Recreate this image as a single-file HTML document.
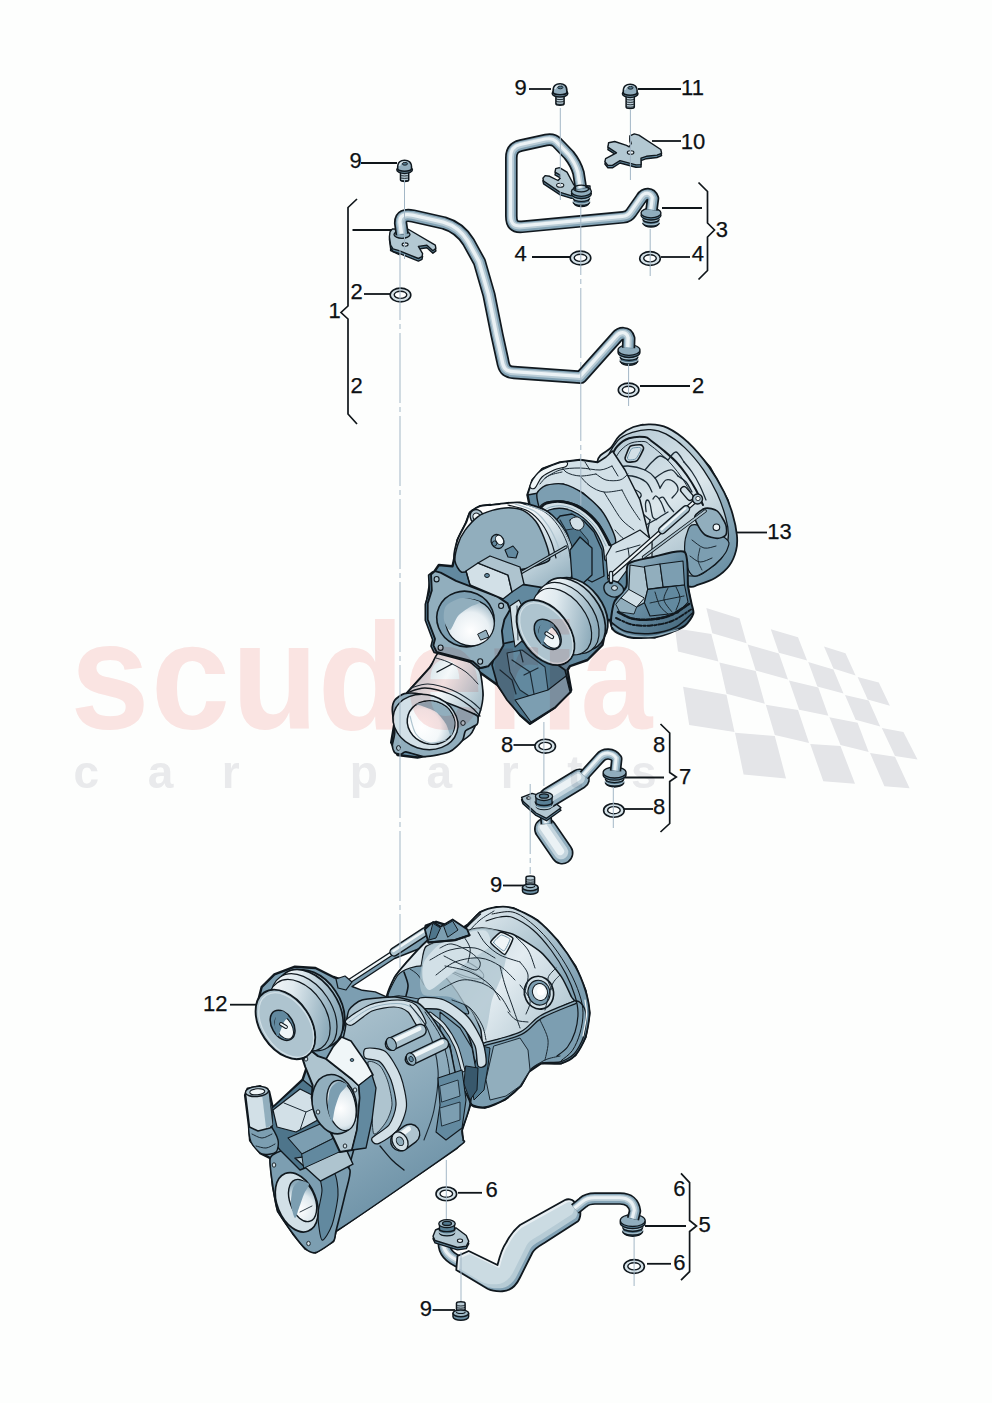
<!DOCTYPE html>
<html><head><meta charset="utf-8"><title>Turbocharger parts diagram</title>
<style>
html,body{margin:0;padding:0;background:#fdfefd;}
body{width:992px;height:1403px;overflow:hidden;font-family:"Liberation Sans",sans-serif;}
svg{display:block}
text{font-family:"Liberation Sans",sans-serif;}
</style></head><body>
<svg width="992" height="1403" viewBox="0 0 992 1403">
<!-- defs -->
<defs>
  <linearGradient id="gBody" x1="0" y1="0" x2="1" y2="1">
    <stop offset="0" stop-color="#cbdae2"/><stop offset="0.5" stop-color="#93afbf"/><stop offset="1" stop-color="#5d849a"/>
  </linearGradient>
  <linearGradient id="gBodyH" x1="0" y1="0" x2="1" y2="0">
    <stop offset="0" stop-color="#e0eaef"/><stop offset="0.45" stop-color="#a1bac7"/><stop offset="1" stop-color="#638aa0"/>
  </linearGradient>
  <linearGradient id="gDark" x1="0" y1="0" x2="1" y2="1">
    <stop offset="0" stop-color="#83a3b5"/><stop offset="1" stop-color="#406378"/>
  </linearGradient>
  <linearGradient id="gLight" x1="0" y1="0" x2="1" y2="1">
    <stop offset="0" stop-color="#f6f9fb"/><stop offset="1" stop-color="#aec4cf"/>
  </linearGradient>
  <radialGradient id="gHole" cx="0.35" cy="0.35" r="0.8">
    <stop offset="0" stop-color="#f4f8fa"/><stop offset="0.6" stop-color="#a8bfcb"/><stop offset="1" stop-color="#5b8298"/>
  </radialGradient>
  <linearGradient id="gCan" x1="0" y1="0" x2="1" y2="0.6">
    <stop offset="0" stop-color="#dae6ec"/><stop offset="0.4" stop-color="#9fb9c6"/><stop offset="1" stop-color="#688ea3"/>
  </linearGradient>
  <linearGradient id="gFat" x1="0" y1="0" x2="1" y2="1">
    <stop offset="0" stop-color="#d3e1e8"/><stop offset="0.55" stop-color="#b6cad4"/><stop offset="1" stop-color="#7fa0b3"/>
  </linearGradient>
</defs>

<!-- lines -->
<g id="leaders" fill="none" stroke="#10161a" stroke-width="1.8">
  <path d="M529 89H551"/>
  <path d="M638 89H681"/>
  <path d="M652 141H681"/>
  <path d="M361 163H397"/>
  <path d="M352.5 230H392"/>
  <path d="M364 294H391"/>
  <path d="M532 257H570"/>
  <path d="M661 257H690"/>
  <path d="M662 208H702"/>
  <path d="M640 386H690"/>
  <path d="M736 532.5H767"/>
  <path d="M513.5 745H535"/>
  <path d="M622.5 777.5H664"/>
  <path d="M624 809H653"/>
  <path d="M503 885.5H524"/>
  <path d="M230 1004.7H257"/>
  <path d="M458 1192.8H482"/>
  <path d="M645 1226H686"/>
  <path d="M647 1263.8H671"/>
  <path d="M432.5 1310H455"/>
</g>
<g id="brackets" fill="none" stroke="#10161a" stroke-width="1.7" stroke-linejoin="miter">
  <path d="M357 199L348 207.5V306L341 312.5L348 319V414L357 424"/>
  <path d="M698.5 182.5L707.5 191.5V223L714.5 230L707.5 237V270.5L698.5 279.5"/>
  <path d="M660.5 724L669.7 733V772.5L676.3 777L669.7 781.5V823.5L660.5 832"/>
  <path d="M681 1173.3L689.6 1182.6V1220.5L696.5 1226L689.6 1231.5V1271.7L681 1280.2"/>
</g>

<!-- pipes -->
<g stroke="#10181e" stroke-width="1.4" stroke-linejoin="round"><path d="M542.9 178.2 L545.1 175.6 L549.7 176.3 L558 180.5 L560.2 178.2 L560.2 175.2 L555 172.2 L555.7 168.7 L559.5 167.6 L567 172.2 L573.9 185 L590 186 L590 193 L575.4 195.5 L570.8 195.6 L560.2 192.3 L543.6 181.2Z" transform="translate(0 2.6)" fill="#62899f"/><path d="M542.9 178.2 L545.1 175.6 L549.7 176.3 L558 180.5 L560.2 178.2 L560.2 175.2 L555 172.2 L555.7 168.7 L559.5 167.6 L567 172.2 L573.9 185 L590 186 L590 193 L575.4 195.5 L570.8 195.6 L560.2 192.3 L543.6 181.2Z" fill="#b3c8d2"/><ellipse cx="560.2" cy="185.3" rx="3.6" ry="2" fill="#ebf1f5" stroke-width="1.1"/></g>
<g stroke="#10181e" stroke-width="1.3"><path d="M574.1999999999999 191.5V203.5A7.199999999999999 3.0239999999999996 0 0 0 588.6 203.5V191.5Z" fill="#44687d"/><path d="M572.9999999999999 196.75A8.399999999999999 3.2399999999999998 0 0 0 589.8000000000001 196.75" fill="none" stroke="#a1bac7" stroke-width="1.5"/><path d="M572.9999999999999 198.25A8.399999999999999 3.2399999999999998 0 0 0 589.8000000000001 198.25" fill="none" stroke-width="1.2"/><path d="M572.9999999999999 200.65A8.399999999999999 3.2399999999999998 0 0 0 589.8000000000001 200.65" fill="none" stroke="#a1bac7" stroke-width="1.5"/><path d="M572.9999999999999 202.15A8.399999999999999 3.2399999999999998 0 0 0 589.8000000000001 202.15" fill="none" stroke-width="1.2"/><ellipse cx="581.4" cy="193.7" rx="10.0" ry="4.8" fill="#5b8298"/><ellipse cx="581.4" cy="191.5" rx="10.0" ry="4.8" fill="#90adbd"/></g>
<g stroke="#10181e" stroke-width="1.3"><path d="M643.8 213V224A7.199999999999999 3.0239999999999996 0 0 0 658.2 224V213Z" fill="#44687d"/><path d="M642.5999999999999 217.8A8.399999999999999 3.2399999999999998 0 0 0 659.4000000000001 217.8" fill="none" stroke="#a1bac7" stroke-width="1.5"/><path d="M642.5999999999999 219.3A8.399999999999999 3.2399999999999998 0 0 0 659.4000000000001 219.3" fill="none" stroke-width="1.2"/><path d="M642.5999999999999 221.44A8.399999999999999 3.2399999999999998 0 0 0 659.4000000000001 221.44" fill="none" stroke="#a1bac7" stroke-width="1.5"/><path d="M642.5999999999999 222.94A8.399999999999999 3.2399999999999998 0 0 0 659.4000000000001 222.94" fill="none" stroke-width="1.2"/><ellipse cx="651" cy="215.2" rx="10.0" ry="4.8" fill="#5b8298"/><ellipse cx="651" cy="213" rx="10.0" ry="4.8" fill="#90adbd"/></g>
<g fill="none" stroke-linecap="butt" stroke-linejoin="round" ><path d="M581 189L578.5 173C576 164 573 160 569 155L557 142.5C554 139.5 551 139 546 140L521 145.5C514 147 511.3 151 511.3 158V216C511.3 224 514 227.5 522 226.8L623 217.3C627 217 629 216 631 213L641.5 198C645 192.5 651 193 653 198.5L651.5 210" stroke="#10181e" stroke-width="12.6"/><path d="M581 189L578.5 173C576 164 573 160 569 155L557 142.5C554 139.5 551 139 546 140L521 145.5C514 147 511.3 151 511.3 158V216C511.3 224 514 227.5 522 226.8L623 217.3C627 217 629 216 631 213L641.5 198C645 192.5 651 193 653 198.5L651.5 210" stroke="#84a4b6" stroke-width="9.2"/><path d="M581 189L578.5 173C576 164 573 160 569 155L557 142.5C554 139.5 551 139 546 140L521 145.5C514 147 511.3 151 511.3 158V216C511.3 224 514 227.5 522 226.8L623 217.3C627 217 629 216 631 213L641.5 198C645 192.5 651 193 653 198.5L651.5 210" stroke="#b9ccd6" stroke-width="6.1" transform="translate(-0.4 -0.5)"/><path d="M581 189L578.5 173C576 164 573 160 569 155L557 142.5C554 139.5 551 139 546 140L521 145.5C514 147 511.3 151 511.3 158V216C511.3 224 514 227.5 522 226.8L623 217.3C627 217 629 216 631 213L641.5 198C645 192.5 651 193 653 198.5L651.5 210" stroke="#ebf2f5" stroke-width="3.1" transform="translate(-0.7 -0.9)"/></g>
<ellipse cx="581.2" cy="188.5" rx="7.6" ry="3.4" fill="none" stroke="#10181e" stroke-width="1.3"/>
<path d="M390.5 244V250.5L399 254.5V248Z" fill="#3f6276" stroke="#10181e" stroke-width="1.2"/>
<g stroke="#10181e" stroke-width="1.4" stroke-linejoin="round"><path d="M390 231.9 L392.4 228.9 L408.7 229.5 L435.3 245.2 L435.9 248.3 L432.9 250.7 L426.9 245.2 L418.4 246.4 L422.6 253.7 L422 256.7 L418.4 258.5 L399 250.7 L393 248.9 L390.6 245.2 L389.4 236.8Z" transform="translate(0 2.6)" fill="#62899f"/><path d="M390 231.9 L392.4 228.9 L408.7 229.5 L435.3 245.2 L435.9 248.3 L432.9 250.7 L426.9 245.2 L418.4 246.4 L422.6 253.7 L422 256.7 L418.4 258.5 L399 250.7 L393 248.9 L390.6 245.2 L389.4 236.8Z" fill="#b3c8d2"/><ellipse cx="405.1" cy="244.6" rx="3" ry="1.7" fill="#ebf1f5" stroke-width="1.1"/></g>
<ellipse cx="402" cy="234.5" rx="8" ry="3.8" fill="#90adbd" stroke="#10181e" stroke-width="1.3"/>
<g stroke="#10181e" stroke-width="1.3"><path d="M621.08 350V362A7.92 3.3264 0 0 0 636.92 362V350Z" fill="#44687d"/><path d="M619.88 355.25A9.12 3.564 0 0 0 638.12 355.25" fill="none" stroke="#a1bac7" stroke-width="1.5"/><path d="M619.88 356.75A9.12 3.564 0 0 0 638.12 356.75" fill="none" stroke-width="1.2"/><path d="M619.88 359.15A9.12 3.564 0 0 0 638.12 359.15" fill="none" stroke="#a1bac7" stroke-width="1.5"/><path d="M619.88 360.65A9.12 3.564 0 0 0 638.12 360.65" fill="none" stroke-width="1.2"/><ellipse cx="629" cy="352.2" rx="11.0" ry="5.279999999999999" fill="#5b8298"/><ellipse cx="629" cy="350" rx="11.0" ry="5.279999999999999" fill="#90adbd"/></g>
<g fill="none" stroke-linecap="butt" stroke-linejoin="round" ><path d="M402.2 234.5L400.6 223C400.6 216 405 214.5 413 216L444 223C456 226.5 463 233 468.5 242L479.5 262L489 295L497 335L502.5 360C504 369 506 372 514 372.5L580.8 377.3L616.5 337.2C620.5 332.5 627 331.8 628.8 338.5L628.5 348" stroke="#10181e" stroke-width="13.4"/><path d="M402.2 234.5L400.6 223C400.6 216 405 214.5 413 216L444 223C456 226.5 463 233 468.5 242L479.5 262L489 295L497 335L502.5 360C504 369 506 372 514 372.5L580.8 377.3L616.5 337.2C620.5 332.5 627 331.8 628.8 338.5L628.5 348" stroke="#84a4b6" stroke-width="10.0"/><path d="M402.2 234.5L400.6 223C400.6 216 405 214.5 413 216L444 223C456 226.5 463 233 468.5 242L479.5 262L489 295L497 335L502.5 360C504 369 506 372 514 372.5L580.8 377.3L616.5 337.2C620.5 332.5 627 331.8 628.8 338.5L628.5 348" stroke="#b9ccd6" stroke-width="6.6" transform="translate(-0.4 -0.5)"/><path d="M402.2 234.5L400.6 223C400.6 216 405 214.5 413 216L444 223C456 226.5 463 233 468.5 242L479.5 262L489 295L497 335L502.5 360C504 369 506 372 514 372.5L580.8 377.3L616.5 337.2C620.5 332.5 627 331.8 628.8 338.5L628.5 348" stroke="#ebf2f5" stroke-width="3.4" transform="translate(-0.7 -0.9)"/></g>
<g stroke="#10181e" stroke-width="1.4" stroke-linejoin="round"><path d="M629.8 135.9 L634.3 133.9 L638.9 135.1 L660.8 149.5 L661.6 153.3 L657 155.1 L646.4 156.3 L641 158.2 L641.1 164.6 L635.9 164.9 L620 160.6 L612.4 165.4 L607.9 165.4 L604.9 161.6 L605.6 158.6 L616.5 152.8 L607.9 147.2 L608.6 142.7 L614.7 141.5 L626.5 145.3 L629.2 146.8 L631.2 143.5 L629.8 139Z" transform="translate(0 2.4)" fill="#62899f"/><path d="M629.8 135.9 L634.3 133.9 L638.9 135.1 L660.8 149.5 L661.6 153.3 L657 155.1 L646.4 156.3 L641 158.2 L641.1 164.6 L635.9 164.9 L620 160.6 L612.4 165.4 L607.9 165.4 L604.9 161.6 L605.6 158.6 L616.5 152.8 L607.9 147.2 L608.6 142.7 L614.7 141.5 L626.5 145.3 L629.2 146.8 L631.2 143.5 L629.8 139Z" fill="#b3c8d2"/><ellipse cx="630.6" cy="152.5" rx="3.3" ry="1.8" fill="#ebf1f5" stroke-width="1.1"/></g>
<g fill="none" stroke-linecap="round"><path d="M545.5 829L562 853" stroke="#10181e" stroke-width="23"/><path d="M545.5 829L562 853" stroke="#90adbd" stroke-width="19.8"/><path d="M545.5 829L562 853" stroke="#c4d5de" stroke-width="14.3" transform="translate(-0.9 -0.9)"/><path d="M545.5 829L562 853" stroke="#ebf2f5" stroke-width="7.9" transform="translate(-1.8 -1.8)"/></g>
<g fill="none" stroke-linecap="butt" stroke-linejoin="round" ><path d="M545.5 812L546.5 824" stroke="#10181e" stroke-width="12"/><path d="M545.5 812L546.5 824" stroke="#84a4b6" stroke-width="8.6"/><path d="M545.5 812L546.5 824" stroke="#b9ccd6" stroke-width="5.7" transform="translate(-0.4 -0.5)"/><path d="M545.5 812L546.5 824" stroke="#ebf2f5" stroke-width="2.9" transform="translate(-0.7 -0.9)"/></g>
<g stroke="#10181e" stroke-width="1.4" stroke-linejoin="round"><path d="M521.6 797.3 L532 793.4 L550.4 798.6 L561 807.8 L546.5 818.3 L536 813 L523 801.3Z" transform="translate(0 2.4)" fill="#62899f"/><path d="M521.6 797.3 L532 793.4 L550.4 798.6 L561 807.8 L546.5 818.3 L536 813 L523 801.3Z" fill="#b3c8d2"/><ellipse cx="528.7" cy="798" rx="2" ry="1.3" fill="#ebf1f5" stroke-width="1.1"/></g>
<g fill="none" stroke-linecap="round"><path d="M549 797.5L579.5 779" stroke="#10181e" stroke-width="21"/><path d="M549 797.5L579.5 779" stroke="#90adbd" stroke-width="17.8"/><path d="M549 797.5L579.5 779" stroke="#c4d5de" stroke-width="12.8" transform="translate(-0.9 -0.9)"/><path d="M549 797.5L579.5 779" stroke="#ebf2f5" stroke-width="7.1" transform="translate(-1.8 -1.8)"/></g>
<g stroke="#10181e" stroke-width="1.3"><path d="M606.32 772.5V783.5A8.28 3.4776 0 0 0 622.88 783.5V772.5Z" fill="#44687d"/><path d="M605.12 777.3A9.479999999999999 3.726 0 0 0 624.08 777.3" fill="none" stroke="#a1bac7" stroke-width="1.5"/><path d="M605.12 778.8A9.479999999999999 3.726 0 0 0 624.08 778.8" fill="none" stroke-width="1.2"/><path d="M605.12 780.9399999999999A9.479999999999999 3.726 0 0 0 624.08 780.9399999999999" fill="none" stroke="#a1bac7" stroke-width="1.5"/><path d="M605.12 782.4399999999999A9.479999999999999 3.726 0 0 0 624.08 782.4399999999999" fill="none" stroke-width="1.2"/><ellipse cx="614.6" cy="774.7" rx="11.5" ry="5.52" fill="#5b8298"/><ellipse cx="614.6" cy="772.5" rx="11.5" ry="5.52" fill="#90adbd"/></g>
<g fill="none" stroke-linecap="butt" stroke-linejoin="round" ><path d="M584 775.5L600 757.8C604 752.8 612.5 752.6 616.8 758.8L615.5 771" stroke="#10181e" stroke-width="11.5"/><path d="M584 775.5L600 757.8C604 752.8 612.5 752.6 616.8 758.8L615.5 771" stroke="#84a4b6" stroke-width="8.1"/><path d="M584 775.5L600 757.8C604 752.8 612.5 752.6 616.8 758.8L615.5 771" stroke="#b9ccd6" stroke-width="5.3" transform="translate(-0.4 -0.5)"/><path d="M584 775.5L600 757.8C604 752.8 612.5 752.6 616.8 758.8L615.5 771" stroke="#ebf2f5" stroke-width="2.8" transform="translate(-0.7 -0.9)"/></g>
<g stroke="#10181e" stroke-width="1.3"><path d="M536 797V806A8 3.6 0 0 0 552 806V797Z" fill="#598096"/><path d="M535 801.5A9 4 0 0 0 553 801.5" fill="none"/><path d="M535 804.5A9 4 0 0 0 553 804.5" fill="none" stroke="#abc2cd"/><ellipse cx="544" cy="796.3" rx="8.6" ry="4.2" fill="#9db7c5"/><ellipse cx="544" cy="796" rx="4.6" ry="2.2" fill="#537a90"/></g>
<g fill="none" stroke-linecap="butt" stroke-linejoin="round" ><path d="M444 1243C444 1252 449 1258 462 1263" stroke="#10181e" stroke-width="13"/><path d="M444 1243C444 1252 449 1258 462 1263" stroke="#84a4b6" stroke-width="9.6"/><path d="M444 1243C444 1252 449 1258 462 1263" stroke="#b9ccd6" stroke-width="6.3" transform="translate(-0.4 -0.5)"/><path d="M444 1243C444 1252 449 1258 462 1263" stroke="#ebf2f5" stroke-width="3.3" transform="translate(-0.7 -0.9)"/></g>
<g stroke="#10181e" stroke-width="1.4" stroke-linejoin="round"><path d="M433 1236.25 L435.5 1230 L440 1228 L456.25 1228 L466.25 1235.5 L468.75 1241.25 L466.25 1246.25 L457.5 1247.5 L435 1240.5Z" transform="translate(0 2.4)" fill="#62899f"/><path d="M433 1236.25 L435.5 1230 L440 1228 L456.25 1228 L466.25 1235.5 L468.75 1241.25 L466.25 1246.25 L457.5 1247.5 L435 1240.5Z" fill="#b3c8d2"/><ellipse cx="460" cy="1240.75" rx="2.6" ry="1.7" fill="#ebf1f5" stroke-width="1.1"/></g>
<g stroke="#10181e" stroke-width="1.3"><path d="M439.5 1224V1233A7.6 3.4 0 0 0 454.5 1233V1224Z" fill="#598096"/><path d="M438.6 1228.5A8.5 3.8 0 0 0 455.4 1228.5" fill="none"/><path d="M438.6 1231A8.5 3.8 0 0 0 455.4 1231" fill="none" stroke="#abc2cd"/><ellipse cx="447" cy="1223.7" rx="8.2" ry="4" fill="#9db7c5"/><ellipse cx="447" cy="1223.4" rx="4.4" ry="2.1" fill="#537a90"/></g>
<g stroke-linejoin="round" ><clipPath id="fatclip1"><path d="M457.5 1256L468.75 1251L497.5 1265C500 1255 503 1247 506.25 1242.5C510 1235 514 1230 520 1225L565 1200C568 1198.5 572 1199.5 573.75 1201.25L580 1210C581 1214 580 1219 578 1221.25L545 1242.5C539 1246 535 1248 532.5 1252.5L520 1277.5C516 1286 510 1291 502.5 1291.25C497 1291.5 492 1291 487.5 1288.75L456.25 1270Z"/></clipPath><path d="M457.5 1256L468.75 1251L497.5 1265C500 1255 503 1247 506.25 1242.5C510 1235 514 1230 520 1225L565 1200C568 1198.5 572 1199.5 573.75 1201.25L580 1210C581 1214 580 1219 578 1221.25L545 1242.5C539 1246 535 1248 532.5 1252.5L520 1277.5C516 1286 510 1291 502.5 1291.25C497 1291.5 492 1291 487.5 1288.75L456.25 1270Z" fill="#82a2b5"/><g clip-path="url(#fatclip1)"><path d="M457.5 1256L468.75 1251L497.5 1265C500 1255 503 1247 506.25 1242.5C510 1235 514 1230 520 1225L565 1200C568 1198.5 572 1199.5 573.75 1201.25L580 1210C581 1214 580 1219 578 1221.25L545 1242.5C539 1246 535 1248 532.5 1252.5L520 1277.5C516 1286 510 1291 502.5 1291.25C497 1291.5 492 1291 487.5 1288.75L456.25 1270Z" fill="#b6cbd5" transform="translate(-2.6 -3)"/><path d="M457.5 1256L468.75 1251L497.5 1265C500 1255 503 1247 506.25 1242.5C510 1235 514 1230 520 1225L565 1200C568 1198.5 572 1199.5 573.75 1201.25L580 1210C581 1214 580 1219 578 1221.25L545 1242.5C539 1246 535 1248 532.5 1252.5L520 1277.5C516 1286 510 1291 502.5 1291.25C497 1291.5 492 1291 487.5 1288.75L456.25 1270Z" fill="#cbdbe2" transform="translate(-6 -7)"/><path d="M457.5 1256L468.75 1251L497.5 1265C500 1255 503 1247 506.25 1242.5C510 1235 514 1230 520 1225L565 1200C568 1198.5 572 1199.5 573.75 1201.25L580 1210C581 1214 580 1219 578 1221.25L545 1242.5C539 1246 535 1248 532.5 1252.5L520 1277.5C516 1286 510 1291 502.5 1291.25C497 1291.5 492 1291 487.5 1288.75L456.25 1270Z" fill="none" stroke="#e8eff3" stroke-width="2.4" transform="translate(1.2 1.6)"/></g><path d="M457.5 1256L468.75 1251L497.5 1265C500 1255 503 1247 506.25 1242.5C510 1235 514 1230 520 1225L565 1200C568 1198.5 572 1199.5 573.75 1201.25L580 1210C581 1214 580 1219 578 1221.25L545 1242.5C539 1246 535 1248 532.5 1252.5L520 1277.5C516 1286 510 1291 502.5 1291.25C497 1291.5 492 1291 487.5 1288.75L456.25 1270Z" fill="none" stroke="#10181e" stroke-width="1.8"/></g>
<g stroke="#10181e" stroke-width="1.3"><path d="M623.7 1220.5V1232.5A9.0 3.78 0 0 0 641.7 1232.5V1220.5Z" fill="#44687d"/><path d="M622.5 1225.75A10.2 4.05 0 0 0 642.9000000000001 1225.75" fill="none" stroke="#a1bac7" stroke-width="1.5"/><path d="M622.5 1227.25A10.2 4.05 0 0 0 642.9000000000001 1227.25" fill="none" stroke-width="1.2"/><path d="M622.5 1229.65A10.2 4.05 0 0 0 642.9000000000001 1229.65" fill="none" stroke="#a1bac7" stroke-width="1.5"/><path d="M622.5 1231.15A10.2 4.05 0 0 0 642.9000000000001 1231.15" fill="none" stroke-width="1.2"/><ellipse cx="632.7" cy="1222.7" rx="12.5" ry="6.0" fill="#5b8298"/><ellipse cx="632.7" cy="1220.5" rx="12.5" ry="6.0" fill="#90adbd"/></g>
<g fill="none" stroke-linecap="butt" stroke-linejoin="round" ><path d="M575 1209L583 1202.5C586 1199.8 590 1198.6 595 1198.6H620C629 1198.6 634 1203 635 1211L633 1219" stroke="#10181e" stroke-width="12.5"/><path d="M575 1209L583 1202.5C586 1199.8 590 1198.6 595 1198.6H620C629 1198.6 634 1203 635 1211L633 1219" stroke="#84a4b6" stroke-width="9.1"/><path d="M575 1209L583 1202.5C586 1199.8 590 1198.6 595 1198.6H620C629 1198.6 634 1203 635 1211L633 1219" stroke="#b9ccd6" stroke-width="6.0" transform="translate(-0.4 -0.5)"/><path d="M575 1209L583 1202.5C586 1199.8 590 1198.6 595 1198.6H620C629 1198.6 634 1203 635 1211L633 1219" stroke="#ebf2f5" stroke-width="3.1" transform="translate(-0.7 -0.9)"/></g>
<!-- small -->
<ellipse cx="400.5" cy="295" rx="10.3" ry="6.9" fill="#d6e3e9" stroke="#10181e" stroke-width="1.6"/><ellipse cx="400.5" cy="294.8" rx="6.300000000000001" ry="3.6000000000000005" fill="#fdfefe" stroke="#10181e" stroke-width="1.4"/>
<ellipse cx="580.5" cy="258" rx="10.3" ry="6.9" fill="#d6e3e9" stroke="#10181e" stroke-width="1.6"/><ellipse cx="580.5" cy="257.8" rx="6.300000000000001" ry="3.6000000000000005" fill="#fdfefe" stroke="#10181e" stroke-width="1.4"/>
<ellipse cx="650" cy="258.5" rx="10.3" ry="6.9" fill="#d6e3e9" stroke="#10181e" stroke-width="1.6"/><ellipse cx="650" cy="258.3" rx="6.300000000000001" ry="3.6000000000000005" fill="#fdfefe" stroke="#10181e" stroke-width="1.4"/>
<ellipse cx="628.6" cy="390" rx="10.3" ry="6.9" fill="#d6e3e9" stroke="#10181e" stroke-width="1.6"/><ellipse cx="628.6" cy="389.8" rx="6.300000000000001" ry="3.6000000000000005" fill="#fdfefe" stroke="#10181e" stroke-width="1.4"/>
<ellipse cx="545.2" cy="746.2" rx="10.3" ry="6.9" fill="#d6e3e9" stroke="#10181e" stroke-width="1.6"/><ellipse cx="545.2" cy="746.0" rx="6.300000000000001" ry="3.6000000000000005" fill="#fdfefe" stroke="#10181e" stroke-width="1.4"/>
<ellipse cx="613.9" cy="810.4" rx="10.3" ry="6.9" fill="#d6e3e9" stroke="#10181e" stroke-width="1.6"/><ellipse cx="613.9" cy="810.1999999999999" rx="6.300000000000001" ry="3.6000000000000005" fill="#fdfefe" stroke="#10181e" stroke-width="1.4"/>
<ellipse cx="446.3" cy="1193.9" rx="10.3" ry="6.9" fill="#d6e3e9" stroke="#10181e" stroke-width="1.6"/><ellipse cx="446.3" cy="1193.7" rx="6.300000000000001" ry="3.6000000000000005" fill="#fdfefe" stroke="#10181e" stroke-width="1.4"/>
<ellipse cx="634.1" cy="1266.5" rx="10.3" ry="6.9" fill="#d6e3e9" stroke="#10181e" stroke-width="1.6"/><ellipse cx="634.1" cy="1266.3" rx="6.300000000000001" ry="3.6000000000000005" fill="#fdfefe" stroke="#10181e" stroke-width="1.4"/>
<g stroke="#10181e" stroke-width="1.5" stroke-linejoin="round"><path d="M555.9 94.39999999999999V103.69999999999999A4.1 1.5 0 0 0 564.1 103.69999999999999V94.39999999999999Z" fill="#bbced8"/><path d="M555.9 98.39999999999999A4.1 1.2 0 0 0 564.1 98.39999999999999" stroke-width="0.9" fill="none"/><path d="M555.9 100.8A4.1 1.2 0 0 0 564.1 100.8" stroke-width="0.9" fill="none"/><path d="M555.9 103.2A4.1 1.2 0 0 0 564.1 103.2" stroke-width="0.9" fill="none"/><ellipse cx="560" cy="93.39999999999999" rx="7.8" ry="3.7" fill="#789bae"/><path d="M553.1 92.0C552.6 85.3 556.5 83.8 560 83.8C563.5 83.8 567.4 85.3 566.9 92.0A6.9 2.8 0 0 1 553.1 92.0Z" fill="#92aebe"/><path d="M555 89.3C555 86.3 558 85.39999999999999 561 85.6" stroke="#dce7ec" stroke-width="1.6" fill="none"/><ellipse cx="560.3" cy="87.39999999999999" rx="2.6" ry="1.4" fill="#51788e" stroke-width="0.9"/></g>
<g stroke="#10181e" stroke-width="1.5" stroke-linejoin="round"><path d="M626.1 94.8V107.1A4.1 1.5 0 0 0 634.3000000000001 107.1V94.8Z" fill="#bbced8"/><path d="M626.1 98.8A4.1 1.2 0 0 0 634.3000000000001 98.8" stroke-width="0.9" fill="none"/><path d="M626.1 101.2A4.1 1.2 0 0 0 634.3000000000001 101.2" stroke-width="0.9" fill="none"/><path d="M626.1 103.60000000000001A4.1 1.2 0 0 0 634.3000000000001 103.60000000000001" stroke-width="0.9" fill="none"/><path d="M626.1 106.00000000000001A4.1 1.2 0 0 0 634.3000000000001 106.00000000000001" stroke-width="0.9" fill="none"/><ellipse cx="630.2" cy="93.8" rx="7.8" ry="3.7" fill="#789bae"/><path d="M623.3000000000001 92.4C622.8000000000001 85.7 626.7 84.2 630.2 84.2C633.7 84.2 637.6 85.7 637.1 92.4A6.9 2.8 0 0 1 623.3000000000001 92.4Z" fill="#92aebe"/><path d="M625.2 89.7C625.2 86.7 628.2 85.8 631.2 86.0" stroke="#dce7ec" stroke-width="1.6" fill="none"/><ellipse cx="630.5" cy="87.8" rx="2.6" ry="1.4" fill="#51788e" stroke-width="0.9"/></g>
<g stroke="#10181e" stroke-width="1.5" stroke-linejoin="round"><path d="M400.5 170.79999999999998V180.1A4.1 1.5 0 0 0 408.70000000000005 180.1V170.79999999999998Z" fill="#bbced8"/><path d="M400.5 174.79999999999998A4.1 1.2 0 0 0 408.70000000000005 174.79999999999998" stroke-width="0.9" fill="none"/><path d="M400.5 177.2A4.1 1.2 0 0 0 408.70000000000005 177.2" stroke-width="0.9" fill="none"/><path d="M400.5 179.6A4.1 1.2 0 0 0 408.70000000000005 179.6" stroke-width="0.9" fill="none"/><ellipse cx="404.6" cy="169.79999999999998" rx="7.8" ry="3.7" fill="#789bae"/><path d="M397.70000000000005 168.39999999999998C397.20000000000005 161.7 401.1 160.2 404.6 160.2C408.1 160.2 412.0 161.7 411.5 168.39999999999998A6.9 2.8 0 0 1 397.70000000000005 168.39999999999998Z" fill="#92aebe"/><path d="M399.6 165.7C399.6 162.7 402.6 161.79999999999998 405.6 162.0" stroke="#dce7ec" stroke-width="1.6" fill="none"/><ellipse cx="404.90000000000003" cy="163.79999999999998" rx="2.6" ry="1.4" fill="#51788e" stroke-width="0.9"/></g>
<g stroke="#10181e" stroke-width="1.5" stroke-linejoin="round"><path d="M526.0 877.4A4.3 1.5 0 0 1 534.5999999999999 877.4V886.4H526.0Z" fill="#bbced8"/><path d="M526.0 878.9A4.3 1.2 0 0 0 534.5999999999999 878.9" stroke-width="0.9" fill="none"/><path d="M526.0 881.1A4.3 1.2 0 0 0 534.5999999999999 881.1" stroke-width="0.9" fill="none"/><path d="M526.0 883.3000000000001A4.3 1.2 0 0 0 534.5999999999999 883.3000000000001" stroke-width="0.9" fill="none"/><path d="M522.5 887.4V890.9A7.8 3.4 0 0 0 538.0999999999999 890.9V887.4Z" fill="#6b90a5"/><ellipse cx="530.3" cy="887.4" rx="7.8" ry="3.4" fill="#9eb8c5"/><path d="M526.0 886.0A4.3 1.6 0 0 0 534.5999999999999 886.0" fill="none" stroke-width="1.1"/></g>
<g stroke="#10181e" stroke-width="1.5" stroke-linejoin="round"><path d="M456.5 1303.3A4.3 1.5 0 0 1 465.1 1303.3V1312.3H456.5Z" fill="#bbced8"/><path d="M456.5 1304.8A4.3 1.2 0 0 0 465.1 1304.8" stroke-width="0.9" fill="none"/><path d="M456.5 1307.0A4.3 1.2 0 0 0 465.1 1307.0" stroke-width="0.9" fill="none"/><path d="M456.5 1309.2A4.3 1.2 0 0 0 465.1 1309.2" stroke-width="0.9" fill="none"/><path d="M453.0 1313.3V1316.8A7.8 3.4 0 0 0 468.6 1316.8V1313.3Z" fill="#6b90a5"/><ellipse cx="460.8" cy="1313.3" rx="7.8" ry="3.4" fill="#9eb8c5"/><path d="M456.5 1311.8999999999999A4.3 1.6 0 0 0 465.1 1311.8999999999999" fill="none" stroke-width="1.1"/></g>
<!-- turbo13 -->
<defs>
<linearGradient id="t13bell" gradientUnits="userSpaceOnUse" x1="610" y1="430" x2="735" y2="580"><stop offset="0" stop-color="#d6e3e9"/><stop offset="0.5" stop-color="#a6beca"/><stop offset="1" stop-color="#62899f"/></linearGradient>
<linearGradient id="t13in" gradientUnits="userSpaceOnUse" x1="620" y1="440" x2="700" y2="570"><stop offset="0" stop-color="#bacdd7"/><stop offset="0.5" stop-color="#dce7ec"/><stop offset="1" stop-color="#a1bac7"/></linearGradient>
<linearGradient id="t13out" gradientUnits="userSpaceOnUse" x1="615" y1="560" x2="692" y2="630"><stop offset="0" stop-color="#a1bac7"/><stop offset="0.45" stop-color="#698ea4"/><stop offset="1" stop-color="#42657a"/></linearGradient>
<linearGradient id="t13can" gradientUnits="userSpaceOnUse" x1="530" y1="580" x2="608" y2="650"><stop offset="0" stop-color="#d0dee5"/><stop offset="0.5" stop-color="#8fadbd"/><stop offset="1" stop-color="#5c8399"/></linearGradient>
<linearGradient id="t13face" gradientUnits="userSpaceOnUse" x1="525" y1="600" x2="580" y2="660"><stop offset="0" stop-color="#f4f8fa"/><stop offset="0.6" stop-color="#c4d5de"/><stop offset="1" stop-color="#96b2c1"/></linearGradient>
<linearGradient id="t13pipe" gradientUnits="userSpaceOnUse" x1="400" y1="680" x2="480" y2="720"><stop offset="0" stop-color="#bbced8"/><stop offset="0.45" stop-color="#f5f9fa"/><stop offset="1" stop-color="#9eb8c5"/></linearGradient>
<radialGradient id="t13bore" gradientUnits="userSpaceOnUse" cx="424" cy="730" r="30"><stop offset="0" stop-color="#ffffff"/><stop offset="0.6" stop-color="#f4f8fa"/><stop offset="1" stop-color="#b7cbd5"/></radialGradient>
<radialGradient id="t13hole" gradientUnits="userSpaceOnUse" cx="474" cy="630" r="34"><stop offset="0" stop-color="#ffffff"/><stop offset="0.55" stop-color="#e8eff3"/><stop offset="1" stop-color="#8dabbb"/></radialGradient>
</defs>
<path d="M612.5 450L622.5 435L642.5 425L662.5 427.5L687.5 442.5L710 467.5L727.5 500L735 530L733.8 550L722.5 570L705 580L687.5 586.2L690 600L691.2 615L680 626.2L655 637.5L630 636.2L612.5 628.8L610 620L607.5 620L602.5 645L587.5 660L570 666.2L567.5 670L571.2 690L555 707.5L530 723.8L520 715L497.5 685L480 672.5L482.5 695L477.5 712.5L462.5 732.5L442.5 752.5L417.5 757.5L397.5 755L391.2 742.5L395 720L393.8 712.5L407.5 692.5L430 667.5L440 652.5L433.8 640L436.2 635L426.2 605L431.2 576.2L438.8 565L452.5 566.2L455 555L457.5 540L466.2 522.5L470 512.5L480 506.2L490 505L497.5 507.5L520 506.2L530 507.5L527.5 495L532.5 480L542.5 468.8L560 462.5L580 460L597.5 462.5L605 457.5Z" fill="#62899f" stroke="#10181e" stroke-width="2.4" stroke-linejoin="round" stroke-linecap="round" />
<path d="M597.3 462.1C598.3 453.4 607.3 452 611 447.6C614.7 443.2 615.9 439 619.6 435.6C623.3 432.2 628.2 428.9 633.3 427C638.4 425.1 644.7 424.2 650.4 424.4C656.1 424.5 661.2 424.9 667.5 427.9C673.8 430.9 681.2 436 688.1 442.4C695 448.8 702.7 458.1 708.7 466.4C714.7 474.7 720.1 484.1 724.1 492.1C728.1 500.1 730.6 507.2 732.7 514.4C734.8 521.5 736.3 529 736.9 535C737.5 541 737.4 545.3 736.1 550.4C734.8 555.5 732.6 561.2 729.2 565.8C725.8 570.4 720.6 574.6 715.5 577.8C710.4 580.9 703 583.3 698.4 584.7C693.8 586.1 694.5 588 688.1 586.4C681.7 584.8 669.7 582.7 660 575C650.3 567.3 639.2 552.5 630 540C620.8 527.5 610.5 513 605 500C599.5 487 596.3 470.8 597.3 462.1Z" fill="url(#t13bell)" stroke="#10181e" stroke-width="1.8" stroke-linejoin="round" stroke-linecap="round" />
<path d="M617.8 440.7C622.3 435.2 627.9 434 633.3 432.1C638.7 430.2 645 429.3 650.4 429.6C655.8 429.9 660.1 430.9 665.8 433.9C671.5 436.9 678.4 441.6 684.7 447.6C691 453.6 698.1 462.1 703.5 469.8C708.9 477.5 713.5 485.8 717.2 493.8C720.9 501.8 723.9 510.9 725.8 517.8C727.7 524.7 728.4 529.9 728.4 535C728.4 540.1 727.1 544.7 725.8 548.7C724.5 552.7 723.6 555.6 720.7 559C717.9 562.4 713 566.4 708.7 569.2C704.4 572.1 701.5 576 695 576.1C688.5 576.2 679.2 575.2 670 570C660.8 564.8 649.2 556.7 640 545C630.8 533.3 620.7 513.3 615 500C609.3 486.7 605.5 474.9 606 465C606.5 455.1 613.2 446.2 617.8 440.7Z" fill="url(#t13in)" stroke="#10181e" stroke-width="1.3" stroke-linejoin="round" stroke-linecap="round" />
<path d="M695 524.7C701.6 525.3 720.4 534.4 725.8 538.4C731.2 542.4 728.4 545.3 727.5 548.7C726.6 552.1 723.8 555.6 720.7 559C717.6 562.4 713 566.4 708.7 569.2C704.4 572.1 698.4 576.1 695 576.1C691.6 576.1 689.8 573.2 688.1 569.2C686.4 565.2 685 557.8 684.7 552.1C684.4 546.4 684.7 539.6 686.4 535C688.1 530.4 688.4 524.1 695 524.7Z" fill="#7c9eb1" stroke="#10181e" stroke-width="1.2" stroke-linejoin="round" stroke-linecap="round" />
<path d="M692 540C694 541.3 700 547 704 548C708 549 714 546.3 716 546" fill="none" stroke="#1b2933" stroke-width="1.0" stroke-linejoin="round" stroke-linecap="round" />
<path d="M690 556C691.7 557 696.3 561.7 700 562C703.7 562.3 710 558.7 712 558" fill="none" stroke="#1b2933" stroke-width="1.0" stroke-linejoin="round" stroke-linecap="round" />
<path d="M700 548C699.7 550 697.7 556.3 698 560C698.3 563.7 701.3 568.3 702 570" fill="none" stroke="#1b2933" stroke-width="0.9" stroke-linejoin="round" stroke-linecap="round" />
<path d="M600 468C601.8 466.1 607.8 460.3 610.7 456.7C613.6 453.1 614.2 449.3 617.3 446.2C620.3 443.1 624.4 439.8 629 438.3C633.6 436.8 641.1 436.6 644.8 437C648.5 437.4 648.4 438.8 651.4 441C654.4 443.2 658.9 446.5 663 450C667.1 453.5 672.3 457.8 676.3 462C680.2 466.2 683.4 470.3 686.7 475C690 479.7 693.3 485 696 490C698.7 495 701.8 502.5 703 505" fill="none" stroke="#10181e" stroke-width="2.0" stroke-linejoin="round" stroke-linecap="round" />
<path d="M606 470C607.3 468.3 611.5 463.3 614 460C616.5 456.7 618.2 452.8 621 450C623.8 447.2 627.2 444.4 631 443C634.8 441.6 640.8 441.2 644 441.5C647.2 441.8 647.3 443.1 650 445C652.7 446.9 656.3 449.7 660 453C663.7 456.3 668.3 460.8 672 465C675.7 469.2 678.8 473.3 682 478C685.2 482.7 689.5 490.5 691 493" fill="none" stroke="#1b2933" stroke-width="1.0" stroke-linejoin="round" stroke-linecap="round" />
<path d="M625.1 458C625.4 456.4 628.8 447.5 630.4 446.2C632 444.9 639.6 444.6 640.9 444.9C642.2 445.2 643.9 447.2 643.5 448.8C643.1 450.4 638.6 459.3 637 460.6C635.4 461.9 629 462.3 627.8 462C626.6 461.7 624.8 459.6 625.1 458Z" fill="#d2e0e7" stroke="#10181e" stroke-width="1.6" stroke-linejoin="round" stroke-linecap="round" />
<path d="M627.5 457.5C627.8 456.4 630.6 449.5 631.8 448.5C633 447.5 638.9 447.4 639.8 447.5C640.7 447.6 641.4 448.9 641 450C640.6 451.1 637 457.8 635.8 458.8C634.6 459.8 629.8 460.1 629 460C628.2 459.9 627.2 458.6 627.5 457.5Z" fill="none" stroke="#62899f" stroke-width="0.9" stroke-linejoin="round" stroke-linecap="round" />
<path d="M596 466C598.7 466.3 606.7 468 612 468C617.3 468 622.5 465.7 628 466C633.5 466.3 640.5 468 645 470C649.5 472 652.5 475 655 478C657.5 481 659.2 486.3 660 488" fill="none" stroke="#1b2933" stroke-width="1.3" stroke-linejoin="round" stroke-linecap="round" />
<path d="M598 474C600.8 474.3 609.3 475.7 615 476C620.7 476.3 626.8 475 632 476C637.2 477 642.7 479.3 646 482C649.3 484.7 651 490.3 652 492" fill="none" stroke="#1b2933" stroke-width="1.3" stroke-linejoin="round" stroke-linecap="round" />
<path d="M600 482C602.3 482.7 609 485 614 486C619 487 625.5 486.7 630 488C634.5 489.3 640 492 641 494C642 496 639.5 499.3 636 500C632.5 500.7 625.3 499.3 620 498C614.7 496.7 606.7 493 604 492" fill="none" stroke="#1b2933" stroke-width="1.3" stroke-linejoin="round" stroke-linecap="round" />
<path d="M645 470C646.2 468.7 649.5 464.3 652 462C654.5 459.7 657.3 456.3 660 456C662.7 455.7 666.7 459.3 668 460" fill="none" stroke="#1b2933" stroke-width="1.3" stroke-linejoin="round" stroke-linecap="round" />
<path d="M655 478C656.5 477 661.2 473.3 664 472C666.8 470.7 669.7 469.3 672 470C674.3 470.7 677 475 678 476" fill="none" stroke="#1b2933" stroke-width="1.3" stroke-linejoin="round" stroke-linecap="round" />
<path d="M660 488C661 486.7 663.7 481 666 480C668.3 479 672 480.3 674 482C676 483.7 678.3 487.3 678 490C677.7 492.7 673 496.7 672 498" fill="none" stroke="#1b2933" stroke-width="1.3" stroke-linejoin="round" stroke-linecap="round" />
<path d="M612 500C614.2 500.8 620.3 503 625 505C629.7 507 635.8 509.5 640 512C644.2 514.5 648.3 518.7 650 520" fill="none" stroke="#1b2933" stroke-width="1.3" stroke-linejoin="round" stroke-linecap="round" />
<path d="M604 505C605.3 507.5 608.5 515 612 520C615.5 525 620.3 530.7 625 535C629.7 539.3 637.5 544.2 640 546" fill="none" stroke="#1b2933" stroke-width="1.3" stroke-linejoin="round" stroke-linecap="round" />
<path d="M612 520C613.7 519.3 618.3 516 622 516C625.7 516 632 519.3 634 520" fill="none" stroke="#1b2933" stroke-width="1.3" stroke-linejoin="round" stroke-linecap="round" />
<path d="M625 535C627.5 533.8 635 530.5 640 528C645 525.5 650.3 522.7 655 520C659.7 517.3 665.8 513.3 668 512" fill="none" stroke="#1b2933" stroke-width="1.3" stroke-linejoin="round" stroke-linecap="round" />
<path d="M640 546C642 544.7 647.3 541.3 652 538C656.7 534.7 665.3 528 668 526" fill="none" stroke="#1b2933" stroke-width="1.3" stroke-linejoin="round" stroke-linecap="round" />
<path d="M646.1 511.7C646 510.4 645.3 505.8 645.5 503.9C645.7 501.9 646.6 500 647.4 500C648.1 500 649.1 501.1 650 503.9C650.9 506.7 651.6 514.4 652.7 517C653.8 519.6 656 519.2 656.6 519.6" fill="none" stroke="#1b2933" stroke-width="1.3" stroke-linejoin="round" stroke-linecap="round" />
<path d="M659.2 498.6C659.9 498.4 661.7 496.2 663.2 497.3C664.7 498.4 666.7 502.8 668.4 505.2C670.1 507.6 672.7 510.6 673.6 511.7" fill="none" stroke="#1b2933" stroke-width="1.3" stroke-linejoin="round" stroke-linecap="round" />
<path d="M653 499C653.5 498.5 654.7 495.5 656 496C657.3 496.5 659.5 499.3 661 502C662.5 504.7 664.3 510.3 665 512" fill="none" stroke="#1b2933" stroke-width="1.3" stroke-linejoin="round" stroke-linecap="round" />
<path d="M678 476C679.3 477 683.7 479.3 686 482C688.3 484.7 691 490.3 692 492" fill="none" stroke="#1b2933" stroke-width="1.3" stroke-linejoin="round" stroke-linecap="round" />
<path d="M684 462C685.3 463.7 689.3 468 692 472C694.7 476 697.7 481.3 700 486C702.3 490.7 705 497.7 706 500" fill="none" stroke="#1b2933" stroke-width="1.3" stroke-linejoin="round" stroke-linecap="round" />
<path d="M668 460C669.3 458.7 673.3 451.7 676 452C678.7 452.3 682.7 460.3 684 462" fill="none" stroke="#1b2933" stroke-width="1.3" stroke-linejoin="round" stroke-linecap="round" />
<path d="M650 520C649.7 522 647.7 527.8 648 532C648.3 536.2 651.3 542.8 652 545" fill="none" stroke="#1b2933" stroke-width="1.3" stroke-linejoin="round" stroke-linecap="round" />
<path d="M600 500C601.1 497.1 606.4 505.1 608 508C609.6 510.9 611.7 517.7 612 522C612.3 526.3 611.1 536.5 610 540C608.9 543.5 605.3 549.3 604 548C602.7 546.7 600.5 536.4 600 530C599.5 523.6 598.9 502.9 600 500Z" fill="#91aebd" stroke="none" stroke-width="0" stroke-linejoin="round" stroke-linecap="round" />
<path d="M527.5 495L532.5 480L542.5 468.8L560 462.5L580 460L597.5 462.5L606 457L612.5 451L625 470L640 500L650 540L640 562L615 548L601 510L583 493L563 484L546 485.4L537 493.3Z" fill="#d2e0e7" stroke="#10181e" stroke-width="1.5" stroke-linejoin="round" stroke-linecap="round" />
<path d="M545 478C547.5 476.7 554.2 471.7 560 470C565.8 468.3 573.3 468 580 468C586.7 468 594.7 470.3 600 470C605.3 469.7 610 466.7 612 466" fill="none" stroke="#1b2933" stroke-width="1.0" stroke-linejoin="round" stroke-linecap="round" />
<path d="M540 484C541.3 482.7 544.3 478 548 476C551.7 474 559.7 472.7 562 472" fill="none" stroke="#1b2933" stroke-width="1.0" stroke-linejoin="round" stroke-linecap="round" />
<path d="M560 463C561 464.5 562.7 469.8 566 472C569.3 474.2 575 475.7 580 476C585 476.3 593.3 474.3 596 474" fill="none" stroke="#1b2933" stroke-width="1.0" stroke-linejoin="round" stroke-linecap="round" />
<path d="M580 476C581.7 477.7 586 483.3 590 486C594 488.7 598.7 491.3 604 492C609.3 492.7 619 490.3 622 490" fill="none" stroke="#1b2933" stroke-width="1.0" stroke-linejoin="round" stroke-linecap="round" />
<path d="M596 474C597.7 475 602 479 606 480C610 481 616.3 481 620 480C623.7 479 626.7 475 628 474" fill="none" stroke="#1b2933" stroke-width="1.0" stroke-linejoin="round" stroke-linecap="round" />
<path d="M604 492C605.3 494.2 609 500.3 612 505C615 509.7 618.3 515.8 622 520C625.7 524.2 632 528.3 634 530" fill="none" stroke="#1b2933" stroke-width="1.0" stroke-linejoin="round" stroke-linecap="round" />
<path d="M622 490C623.3 492.5 627 500 630 505C633 510 638.3 517.5 640 520" fill="none" stroke="#1b2933" stroke-width="1.0" stroke-linejoin="round" stroke-linecap="round" />
<path d="M585 462C585.8 463.3 589.2 468.7 590 470" fill="none" stroke="#1b2933" stroke-width="1.0" stroke-linejoin="round" stroke-linecap="round" />
<path d="M612 466C613 467.7 617 474.3 618 476" fill="none" stroke="#1b2933" stroke-width="1.0" stroke-linejoin="round" stroke-linecap="round" />
<path d="M615 530C616.7 531.7 620.8 537 625 540C629.2 543 637.5 546.7 640 548" fill="none" stroke="#1b2933" stroke-width="1.0" stroke-linejoin="round" stroke-linecap="round" />
<path d="M530 486C530.5 483.5 534.3 476.4 538 473C541.7 469.6 547.3 467.3 552 465.5C556.7 463.7 563.7 461.8 566 462C568.3 462.2 568 465.2 566 466.5C564 467.8 558 468.2 554 470C550 471.8 545.2 474 542 477C538.8 480 537 486.5 535 488C533 489.5 529.5 488.5 530 486Z" fill="#f0f6f8" stroke="#10181e" stroke-width="1.1" stroke-linejoin="round" stroke-linecap="round" />
<path d="M537 493.3C537.9 490.3 542.7 486.6 546.2 485.4C549.7 484.2 558.4 483 563.3 484.1C568.2 485.2 577.8 489.8 582.9 493.3C588 496.8 597.5 505.6 601.3 510.3C605.1 515 609.8 524.4 611.7 528.6C613.6 532.8 615.9 539.6 615.7 541.7C615.5 543.8 612.7 546.8 610.4 544.4C608.1 542 602.4 528.3 598.6 523.4C594.8 518.5 586.3 510.7 581.6 507.7C576.9 504.7 568 501.8 563.3 501.1C558.6 500.4 549.3 501.5 546.2 502.4C543.1 503.3 540.9 508.9 539.7 507.7C538.5 506.5 536.1 496.3 537 493.3Z" fill="#7c9eb1" stroke="#10181e" stroke-width="1.4" stroke-linejoin="round" stroke-linecap="round" />
<path d="M539.7 507.7C540.4 505.9 543.1 503.3 546.2 502.4C549.3 501.5 558.6 500.4 563.3 501.1C568 501.8 576.9 504.7 581.6 507.7C586.3 510.7 594.8 518.5 598.6 523.4C602.4 528.3 608.6 539.8 610.4 544.4C612.2 549 612.7 555.9 612 558C611.3 560.1 606.2 561.5 605 560C603.8 558.5 604.6 551.3 603 547C601.4 542.7 596.3 532.4 593 528C589.7 523.6 582 516.6 578 514C574 511.4 566.9 509 563 508.5C559.1 508 551.9 509 549 510C546.1 511 542.2 516.3 541 516C539.8 515.7 539 509.5 539.7 507.7Z" fill="#d2e0e7" stroke="#10181e" stroke-width="1.3" stroke-linejoin="round" stroke-linecap="round" />
<path d="M540.5 508.5C541.5 507.6 542.7 504.4 546.5 503.4C550.3 502.3 557.5 501.3 563.3 502.2C569 503.1 575.2 505.1 581 508.7C586.8 512.3 593.1 518 597.8 524C602.5 530 607.5 541.5 609.4 545" fill="none" stroke="#10181e" stroke-width="2.2" stroke-linejoin="round" stroke-linecap="round" />
<path d="M542 513C543.2 512.1 545.5 508.7 549 507.5C552.5 506.3 558 505.2 563 506C568 506.8 573.7 508.6 579 512C584.3 515.4 590.5 520.8 595 526.5C599.5 532.2 604.2 542.8 606 546" fill="none" stroke="#91aebd" stroke-width="1.0" stroke-linejoin="round" stroke-linecap="round" />
<path d="M612 545L640 530L652 540L652 558L630 566L618 582L608 580L606 556Z" fill="#d2e0e7" stroke="#10181e" stroke-width="1.2" stroke-linejoin="round" stroke-linecap="round" />
<path d="M616 552L640 545" fill="none" stroke="#1b2933" stroke-width="1.0" stroke-linejoin="round" stroke-linecap="round" />
<path d="M620 566L612 575" fill="none" stroke="#1b2933" stroke-width="1.0" stroke-linejoin="round" stroke-linecap="round" />
<path d="M628 548L630 562" fill="none" stroke="#1b2933" stroke-width="1.0" stroke-linejoin="round" stroke-linecap="round" />
<path d="M552 525L560 516L572 514L584 521L594 532L602 550L604 576L592 582L577 574L562 562L553 542Z" fill="#62899f" stroke="#10181e" stroke-width="1.3" stroke-linejoin="round" stroke-linecap="round" />
<path d="M566 530L578 528L588 540L590 560L580 560L570 548Z" fill="#4e758b" stroke="#1b2933" stroke-width="1.0" stroke-linejoin="round" stroke-linecap="round" />
<path d="M560 520C561.3 522.5 566 529.2 568 535C570 540.8 570 549.2 572 555C574 560.8 578.7 567.5 580 570" fill="none" stroke="#1b2933" stroke-width="1.2" stroke-linejoin="round" stroke-linecap="round" />
<path d="M570 520C570.8 518.2 575.7 516.3 578 517C580.3 517.7 583.7 521.8 584 524C584.3 526.2 581.8 529.3 580 530C578.2 530.7 574.7 529.7 573 528C571.3 526.3 569.2 521.8 570 520Z" fill="#d2e0e7" stroke="#10181e" stroke-width="1.0" stroke-linejoin="round" stroke-linecap="round" />
<path d="M628.1 564.1C631.1 560.7 645.5 558.6 652.1 557.2C658.7 555.8 680.5 548.7 684.7 552.1C688.9 555.5 687.3 580.4 688.1 586.4C688.9 592.4 690.9 600.3 691.5 603.5C692.1 606.7 694.1 611.2 693.3 613.8C692.5 616.4 688.5 623.2 684.7 625.8C680.9 628.4 666.9 634.7 660.7 636.1C654.5 637.5 637 638.4 631.6 637.8C626.2 637.2 616.8 632.9 614.4 630.9C612 628.9 611 624.1 611 620.7C611 617.3 612.6 605.8 614.4 601.8C616.2 597.8 624.8 590.8 626.4 586.4C628 582 625.1 567.5 628.1 564.1Z" fill="url(#t13out)" stroke="#10181e" stroke-width="2.0" stroke-linejoin="round" stroke-linecap="round" />
<path d="M630 565L644.4 567.2L647.7 589.4L644.4 602.7L636.6 607.1L628.8 589.4Z" fill="#aec4cf" stroke="#10181e" stroke-width="1.1" stroke-linejoin="round" stroke-linecap="round" />
<path d="M644.4 566.5L660 564L663.2 587.1L647.7 589.4Z" fill="#91aebd" stroke="#10181e" stroke-width="1.1" stroke-linejoin="round" stroke-linecap="round" />
<path d="M660 564L683 561L684.5 585L663.2 587.1Z" fill="#7c9eb1" stroke="#10181e" stroke-width="1.1" stroke-linejoin="round" stroke-linecap="round" />
<path d="M647.7 589.4L684.5 585L688 602L678 613L650 616L644.4 602.7Z" fill="#62899f" stroke="#10181e" stroke-width="1.1" stroke-linejoin="round" stroke-linecap="round" />
<path d="M621 598L628.8 589.4L644.4 598L636.6 607.1Z" fill="#d2e0e7" stroke="#10181e" stroke-width="1.0" stroke-linejoin="round" stroke-linecap="round" />
<path d="M616 604L621 598L636.6 607.1L634 614L620 612Z" fill="#91aebd" stroke="#10181e" stroke-width="0.9" stroke-linejoin="round" stroke-linecap="round" />
<path d="M655 592C655.8 594.3 657.8 602.3 660 606C662.2 609.7 666.7 612.7 668 614" fill="none" stroke="#10181e" stroke-width="0.9" stroke-linejoin="round" stroke-linecap="round" />
<path d="M668 588C667.3 590 663.3 596 664 600C664.7 604 670.7 610 672 612" fill="none" stroke="#10181e" stroke-width="0.9" stroke-linejoin="round" stroke-linecap="round" />
<path d="M676 587C676.7 588.8 680 594.2 680 598C680 601.8 676.7 608 676 610" fill="none" stroke="#10181e" stroke-width="0.9" stroke-linejoin="round" stroke-linecap="round" />
<path d="M650 603C652.3 602.5 658.3 601.2 664 600C669.7 598.8 680.7 596.7 684 596" fill="none" stroke="#10181e" stroke-width="0.9" stroke-linejoin="round" stroke-linecap="round" />
<path d="M618 612C620.3 613.1 626.7 617.2 632 618.5C637.3 619.8 643.7 620 650 619.5C656.3 619 663.5 618.1 670 615.5C676.5 612.9 685.8 605.9 689 604" fill="none" stroke="#10181e" stroke-width="2.6" stroke-linejoin="round" stroke-linecap="round" stroke-dasharray="3.2 1.8"/>
<path d="M616 618C618.7 619.1 626.2 623.2 632 624.5C637.8 625.8 644.3 626.1 651 625.5C657.7 624.9 665.3 623.7 672 621C678.7 618.3 687.8 611.4 691 609.5" fill="none" stroke="#10181e" stroke-width="2.0" stroke-linejoin="round" stroke-linecap="round" stroke-dasharray="5 2 2 2"/>
<path d="M611.5 622.5C613.9 624 619.2 629.7 626 631.5C632.8 633.3 643.7 634.2 652 633.5C660.3 632.8 669.2 630.4 676 627C682.8 623.6 689.8 615.3 692.5 613" fill="none" stroke="#10181e" stroke-width="1.5" stroke-linejoin="round" stroke-linecap="round" />
<path d="M612.5 626C614.9 627.4 620.4 632.9 627 634.6C633.6 636.3 643.5 637.2 652 636.4C660.5 635.6 673.7 630.7 678 629.6" fill="none" stroke="#91aebd" stroke-width="1.2" stroke-linejoin="round" stroke-linecap="round" />
<path d="M695 516.1C695.9 513.7 702.2 509.1 705.2 508.4C708.2 507.7 714.5 508.8 717.2 511C719.9 513.2 724.7 521.5 725.8 524.7C726.9 527.9 726.9 533.2 725.8 535C724.7 536.8 719.9 538.4 717.2 538.4C714.5 538.4 707.7 536.6 705.2 535C702.7 533.4 699.8 528.9 698.4 526.4C697 523.9 694.1 518.5 695 516.1Z" fill="#91aebd" stroke="#10181e" stroke-width="1.6" stroke-linejoin="round" stroke-linecap="round" />
<ellipse cx="716.4" cy="527.3" rx="3.3" ry="3.3" fill="#f0f6f8" stroke="#10181e" stroke-width="1.1" />
<path d="M643.5 557.2L705.2 511" fill="none" stroke="#10181e" stroke-width="3.4" stroke-linejoin="round" stroke-linecap="round" />
<path d="M643.5 557.2L705.2 511" fill="none" stroke="#aec4cf" stroke-width="1.6" stroke-linejoin="round" stroke-linecap="round" />
<path d="M609.3 577L697.5 499" fill="none" stroke="#10181e" stroke-width="4.6" stroke-linejoin="round" stroke-linecap="round" />
<path d="M609.3 577L697.5 499" fill="none" stroke="#f0f6f8" stroke-width="2.2" stroke-linejoin="round" stroke-linecap="round" />
<path d="M662.2 530.2L686 509.1" fill="none" stroke="#10181e" stroke-width="8.4" stroke-linejoin="round" stroke-linecap="round" />
<path d="M662.2 530.2L686 509.1" fill="none" stroke="#aec4cf" stroke-width="5.6" stroke-linejoin="round" stroke-linecap="round" />
<path d="M661.6 529.4L685.4 508.3" fill="none" stroke="#f0f6f8" stroke-width="2.2" stroke-linejoin="round" stroke-linecap="round" />
<path d="M684 490L690 497" fill="none" stroke="#10181e" stroke-width="8" stroke-linejoin="round" stroke-linecap="round" />
<path d="M684 490L690 497" fill="none" stroke="#d2e0e7" stroke-width="5.2" stroke-linejoin="round" stroke-linecap="round" />
<ellipse cx="697.5" cy="499" rx="5" ry="5" fill="#aec4cf" stroke="#10181e" stroke-width="1.4" />
<ellipse cx="698" cy="498.5" rx="2.2" ry="2.2" fill="#f0f6f8" stroke="#10181e" stroke-width="0.8" />
<path d="M606 583C607.7 581.7 611.3 580.5 614 581C616.7 581.5 620.5 584.2 622 586C623.5 587.8 624 590.2 623 592C622 593.8 618.5 596.5 616 597C613.5 597.5 610 596.3 608 595C606 593.7 604.3 591 604 589C603.7 587 604.3 584.3 606 583Z" fill="#7c9eb1" stroke="#10181e" stroke-width="1.4" stroke-linejoin="round" stroke-linecap="round" />
<ellipse cx="614.5" cy="588" rx="3" ry="2.4" fill="#d2e0e7" stroke="#10181e" stroke-width="1" />
<path d="M611 573L611 582" fill="none" stroke="#10181e" stroke-width="4.5" stroke-linejoin="round" stroke-linecap="round" />
<path d="M611 573L611 581" fill="none" stroke="#d2e0e7" stroke-width="2.2" stroke-linejoin="round" stroke-linecap="round" />
<defs><linearGradient id="t13rim" gradientUnits="userSpaceOnUse" x1="520" y1="505" x2="572" y2="580"><stop offset="0" stop-color="#ffffff"/><stop offset="0.45" stop-color="#d2e0e7"/><stop offset="1" stop-color="#91aebd"/></linearGradient></defs>
<path d="M455 561C452 556.1 456 545.1 457.5 540C459 534.9 464.6 526.2 466.2 522.5C467.9 518.8 468.2 514.7 470 512.5C471.8 510.3 477.3 507.2 480 506.2C482.7 505.2 487.4 505.3 490 505C492.6 504.7 495.4 504.3 499.4 504C503.4 503.7 513.9 501.7 520 502.5C526.1 503.3 539.7 507.1 545 510C550.3 512.9 556.7 519.7 560 524C563.3 528.3 568.1 537.5 570 542C571.9 546.5 573.9 553.2 574 558C574.1 562.8 573.9 574 571 578C568.1 582 558.8 587.2 552 588C545.2 588.8 529.6 585.5 520 584C510.4 582.5 488.7 580.1 480 577C471.3 573.9 458 565.9 455 561Z" fill="url(#t13rim)" stroke="#10181e" stroke-width="1.8" stroke-linejoin="round" stroke-linecap="round" />
<path d="M522 503.5C525.7 504.8 538 507.8 544 511.5C550 515.2 554.2 520.2 558 525.5C561.8 530.8 564.9 537.4 567 543C569.1 548.6 569.9 556.3 570.5 559" fill="none" stroke="#1b2933" stroke-width="1.0" stroke-linejoin="round" stroke-linecap="round" />
<path d="M527 505C530.5 506.4 542.2 509.7 548 513.5C553.8 517.3 558.2 522.8 562 528C565.8 533.2 568.7 539.7 570.5 545C572.3 550.3 572.6 557.5 573 560" fill="none" stroke="#aec4cf" stroke-width="1.0" stroke-linejoin="round" stroke-linecap="round" />
<ellipse cx="476.8" cy="516.8" rx="6.5" ry="7.5" fill="#aec4cf" stroke="#10181e" stroke-width="1.4" transform="rotate(-30 476.8 516.8)" />
<ellipse cx="476.8" cy="517.2" rx="3.6" ry="4.4" fill="#f0f6f8" stroke="#10181e" stroke-width="1.1" transform="rotate(-30 476.8 517.2)" />
<path d="M508 505C511.3 506 522.3 507.8 528 511C533.7 514.2 538.2 519 542 524C545.8 529 548.7 535.3 551 541C553.3 546.7 555.2 555.2 556 558" fill="none" stroke="#10181e" stroke-width="1.2" stroke-linejoin="round" stroke-linecap="round" />
<path d="M515 504C518.3 505.2 529.5 507.9 535 511.5C540.5 515.1 544.3 520.2 548 525.5C551.7 530.8 554.8 537.6 557 543C559.2 548.4 560.3 555.5 561 558" fill="none" stroke="#aec4cf" stroke-width="1.3" stroke-linejoin="round" stroke-linecap="round" />
<path d="M455 561.2C454.5 557.6 456.4 549 457.7 544.9C459 540.8 462.3 534.1 465 530.4C467.7 526.7 474.1 519.5 477.7 516.8C481.3 514.1 488.1 511.6 492.2 510.4C496.3 509.2 504.4 507.7 508.5 507.7C512.6 507.7 519.4 508.6 523 510.4C526.6 512.2 532.9 517.7 535.7 521.3C538.5 524.9 542.1 533 543.9 537.6C545.7 542.2 548.9 552.5 549.3 555.8C549.7 559.1 550.8 560.1 546.6 562C542.4 563.9 525.1 569.5 517.6 570C510.1 570.5 496.5 566 490.4 566C484.3 566 476.1 569.2 472.2 570C468.3 570.8 463.6 573.2 461.3 572C459 570.8 455.5 564.8 455 561.2Z" fill="#91aebd" stroke="#10181e" stroke-width="1.5" stroke-linejoin="round" stroke-linecap="round" />
<ellipse cx="497.5" cy="541.5" rx="6.2" ry="7.2" fill="#7c9eb1" stroke="#10181e" stroke-width="1.3" transform="rotate(-30 497.5 541.5)" />
<ellipse cx="499.5" cy="540" rx="3.6" ry="5" fill="#f0f6f8" stroke="#10181e" stroke-width="0.9" transform="rotate(-30 499.5 540)" />
<ellipse cx="494.5" cy="543.5" rx="2.2" ry="2.6" fill="#62899f" stroke="#10181e" stroke-width="0.9" />
<path d="M505 550L513 546L518 552L516 558L508 557Z" fill="#62899f" stroke="#10181e" stroke-width="1.1" stroke-linejoin="round" stroke-linecap="round" />
<path d="M570 550L580 537L592 548L592 575L580 586L572 578Z" fill="#62899f" stroke="#10181e" stroke-width="1.3" stroke-linejoin="round" stroke-linecap="round" />
<path d="M517 575L566 547" fill="none" stroke="#10181e" stroke-width="3.2" stroke-linejoin="round" stroke-linecap="round" />
<path d="M517 575L566 547" fill="none" stroke="#aec4cf" stroke-width="1.4" stroke-linejoin="round" stroke-linecap="round" />
<path d="M497.5 645L520 640L540 652L565 670L571 692L555 707.5L530 723.5L520 715L507 700L497.5 685L492 665Z" fill="#4e758b" stroke="#10181e" stroke-width="1.7" stroke-linejoin="round" stroke-linecap="round" />
<path d="M507 653L522 650L545 667L548 690L535 700L520 690L510 672Z" fill="#62899f" stroke="#1b2933" stroke-width="1.1" stroke-linejoin="round" stroke-linecap="round" />
<path d="M515 700L548 690L566 676L570 692L555 707L531 722Z" fill="#7c9eb1" stroke="#10181e" stroke-width="1.1" stroke-linejoin="round" stroke-linecap="round" />
<path d="M512 660L530 672L534 694" fill="none" stroke="#1b2933" stroke-width="1.2" stroke-linejoin="round" stroke-linecap="round" />
<path d="M520 650L523 662" fill="none" stroke="#1b2933" stroke-width="1.2" stroke-linejoin="round" stroke-linecap="round" />
<path d="M500 670L512 680L516 694" fill="none" stroke="#1b2933" stroke-width="1.2" stroke-linejoin="round" stroke-linecap="round" />
<path d="M524 675L538 668" fill="none" stroke="#1b2933" stroke-width="1.2" stroke-linejoin="round" stroke-linecap="round" />
<path d="M440 652C435.3 652.6 433.8 662.8 430 667.5C426.2 672.2 411.6 687.3 407.5 692.5C403.4 697.7 395.9 707 395 712C394.1 717 394.8 730.6 400 735C405.2 739.4 431.8 750 440 750C448.2 750 465.3 739.4 470 735C474.7 730.6 478.5 716.7 480 712C481.5 707.3 483 699.7 483 695C483 690.3 481.5 675.9 480 672C478.5 668.1 474.7 664.3 470 662C465.3 659.7 444.7 651.4 440 652Z" fill="url(#t13pipe)" stroke="#10181e" stroke-width="1.6" stroke-linejoin="round" stroke-linecap="round" />
<path d="M392.3 709.8C392.3 706 393.3 702.1 394.7 700.2C396.1 698.3 401.4 694.4 404.4 693.7C407.4 693 415.3 693 420 694C424.7 695 438.9 699.8 445 702C451.1 704.2 468.2 711.3 472 713C475.8 714.7 477.1 715 477.7 716.3C478.3 717.6 478.4 722.7 477 724.4C475.6 726.1 467.3 728.9 465.6 730.8C463.9 732.7 464.3 738 462.4 740.5C460.5 743 453.8 749.9 449.5 751.8C445.2 753.7 430.4 756.6 425.3 756.6C420.2 756.6 408.8 752.1 406 751.8C403.2 751.5 402.4 754.1 401.1 754.2C399.8 754.3 395.7 753.6 394.7 752.6C393.7 751.6 392.3 747.7 392.3 745.3C392.3 742.9 394.7 736.5 394.7 732.4C394.7 728.3 392.3 713.6 392.3 709.8Z" fill="#91aebd" stroke="#10181e" stroke-width="1.7" stroke-linejoin="round" stroke-linecap="round" />
<ellipse cx="425.5" cy="722" rx="33" ry="27" fill="#d2e0e7" stroke="#10181e" stroke-width="1.5" transform="rotate(18 425.5 722)" />
<ellipse cx="431" cy="722.5" rx="24" ry="21.5" fill="url(#t13bore)" stroke="#10181e" stroke-width="1.5" transform="rotate(18 431 722.5)" />
<path d="M416 704C417.3 703.4 427.9 701 432 701.5C436.1 702 444 705.3 447 708C450 710.7 454 718.3 454.5 722C455 725.7 452.1 735.7 451 736C449.9 736.3 448 727.2 446 724C444 720.8 439.2 714.4 436 712C432.8 709.6 424.7 707.1 422 706C419.3 704.9 414.7 704.6 416 704Z" fill="#91aebd" stroke="none" stroke-width="0" stroke-linejoin="round" stroke-linecap="round" />
<path d="M410 716C411 719 412.7 729.5 416 734C419.3 738.5 425 742 430 743C435 744 443.3 740.5 446 740" fill="none" stroke="#aec4cf" stroke-width="1.2" stroke-linejoin="round" stroke-linecap="round" />
<ellipse cx="398.5" cy="748" rx="2" ry="2.4" fill="#aec4cf" stroke="#10181e" stroke-width="1" />
<ellipse cx="463" cy="723" rx="2.2" ry="2.4" fill="#aec4cf" stroke="#10181e" stroke-width="1" />
<path d="M407 693C410 692.2 417.8 687.8 425 688C432.2 688.2 442.5 691 450 694C457.5 697 465 702.3 470 706C475 709.7 478.3 714.3 480 716" fill="none" stroke="#10181e" stroke-width="1.3" stroke-linejoin="round" stroke-linecap="round" />
<path d="M411 688C413.8 687.3 421.2 683.7 428 684C434.8 684.3 444.8 687.2 452 690C459.2 692.8 466.2 697.7 471 701C475.8 704.3 479.3 708.5 481 710" fill="none" stroke="#1b2933" stroke-width="1.1" stroke-linejoin="round" stroke-linecap="round" />
<path d="M436 658C438 658.7 443 659.7 448 662C453 664.3 461 668.3 466 672C471 675.7 476 682 478 684" fill="none" stroke="#1b2933" stroke-width="1.0" stroke-linejoin="round" stroke-linecap="round" />
<path d="M437 672L452 664" fill="none" stroke="#10181e" stroke-width="1.4" stroke-linejoin="round" stroke-linecap="round" />
<path d="M431 574.4L435 571.1L440.6 572.7L456 580.8L497.9 596.9L507.6 603.4L510 609.8L504.4 619.5L501.9 630.8L503.5 645.3L497.9 655L488.2 666.3L480.2 667.9L472.9 661.5L436.6 651.8L433.4 645.3L435 638.9L427.7 619.5L427.7 603.4L431.8 590.5Z" fill="#62899f" stroke="#10181e" stroke-width="1.6" stroke-linejoin="round" stroke-linecap="round" transform="translate(-2.4 0.8)"/>
<path d="M431 574.4L435 571.1L440.6 572.7L456 580.8L497.9 596.9L507.6 603.4L510 609.8L504.4 619.5L501.9 630.8L503.5 645.3L497.9 655L488.2 666.3L480.2 667.9L472.9 661.5L436.6 651.8L433.4 645.3L435 638.9L427.7 619.5L427.7 603.4L431.8 590.5Z" fill="#91aebd" stroke="#10181e" stroke-width="1.9" stroke-linejoin="round" stroke-linecap="round" />
<ellipse cx="465.5" cy="619" rx="29" ry="27.5" fill="#7c9eb1" stroke="#10181e" stroke-width="1.6" transform="rotate(25 465.5 619)" />
<ellipse cx="470" cy="622.5" rx="24.5" ry="23" fill="url(#t13hole)" stroke="#10181e" stroke-width="1.2" transform="rotate(25 470 622.5)" />
<path d="M446 606C448.4 603.1 457.5 598.5 462 598C466.5 597.5 478.9 600.8 480 602C481.1 603.2 472.9 605.1 470 607C467.1 608.9 460.7 612.9 458 616C455.3 619.1 451.9 629.5 450 630C448.1 630.5 444.5 623.2 444 620C443.5 616.8 443.6 608.9 446 606Z" fill="#91aebd" stroke="none" stroke-width="0" stroke-linejoin="round" stroke-linecap="round" />
<path d="M478 634L486 630L489 637L481 640Z" fill="#91aebd" stroke="#10181e" stroke-width="1.0" stroke-linejoin="round" stroke-linecap="round" />
<ellipse cx="436.6" cy="579.2" rx="2.5" ry="2.7" fill="#aec4cf" stroke="#10181e" stroke-width="1.1" />
<ellipse cx="501.1" cy="605.8" rx="2.5" ry="2.7" fill="#aec4cf" stroke="#10181e" stroke-width="1.1" />
<ellipse cx="440.6" cy="647.7" rx="2.5" ry="2.7" fill="#aec4cf" stroke="#10181e" stroke-width="1.1" />
<ellipse cx="480.2" cy="661.5" rx="2.5" ry="2.7" fill="#aec4cf" stroke="#10181e" stroke-width="1.1" />
<path d="M510 606L519 600L525 612L523 640L515 647L512 626Z" fill="#d2e0e7" stroke="#10181e" stroke-width="1.1" stroke-linejoin="round" stroke-linecap="round" />
<path d="M517 606L518 640" fill="none" stroke="#1b2933" stroke-width="0.9" stroke-linejoin="round" stroke-linecap="round" />
<path d="M466 571L478 563L508 575L512 592L503 599L470 585Z" fill="#d2e0e7" stroke="#10181e" stroke-width="1.4" stroke-linejoin="round" stroke-linecap="round" />
<path d="M478 563L490 556L520 567L524 584L512 592L508 575Z" fill="#aec4cf" stroke="#10181e" stroke-width="1.3" stroke-linejoin="round" stroke-linecap="round" />
<ellipse cx="487" cy="575.5" rx="2.4" ry="2" fill="#62899f" stroke="#10181e" stroke-width="1" />
<path d="M470 585L466 571" fill="none" stroke="#10181e" stroke-width="1.2" stroke-linejoin="round" stroke-linecap="round" />
<defs><linearGradient id="t13side" gradientUnits="userSpaceOnUse" x1="538" y1="582" x2="622" y2="668"><stop offset="0" stop-color="#ffffff"/><stop offset="0.3" stop-color="#e0eaef"/><stop offset="0.62" stop-color="#91aebd"/><stop offset="1" stop-color="#5c8399"/></linearGradient></defs>
<ellipse cx="578.5" cy="610.6" rx="24" ry="37" fill="url(#t13side)" stroke="#10181e" stroke-width="1.8" transform="rotate(-37 578.5 610.6)" />
<ellipse cx="573.2" cy="614.1" rx="26.5" ry="40.5" fill="url(#t13side)" stroke="#10181e" stroke-width="1.7" transform="rotate(-37 573.2 614.1)" />
<ellipse cx="567.3" cy="618.1" rx="26" ry="40" fill="url(#t13side)" stroke="#10181e" stroke-width="1.2" transform="rotate(-37 567.3 618.1)" />
<ellipse cx="562" cy="621.6" rx="24.2" ry="37.4" fill="url(#t13side)" stroke="#10181e" stroke-width="1.2" transform="rotate(-37 562 621.6)" />
<ellipse cx="545.5" cy="632.6" rx="23.5" ry="36.6" fill="#aec4cf" stroke="#10181e" stroke-width="1.9" transform="rotate(-37 545.5 632.6)" />
<ellipse cx="546.3" cy="633.2" rx="21.2" ry="34.2" fill="none" stroke="#d2e0e7" stroke-width="1.2" transform="rotate(-37 546.3 633.2)" />
<ellipse cx="547.7" cy="634.3" rx="11" ry="17" fill="#62899f" stroke="#10181e" stroke-width="1.5" transform="rotate(-37 547.7 634.3)" />
<ellipse cx="549.5" cy="636.3" rx="8.2" ry="13.6" fill="#f0f6f8" stroke="#10181e" stroke-width="1.0" transform="rotate(-37 549.5 636.3)" />
<path d="M540 626C540.9 624 544.1 621.1 546 621C547.9 620.9 553.6 623.8 554 625C554.4 626.2 550.2 628.3 549 630C547.8 631.7 545.9 636 545 638C544.1 640 542.8 645.3 542 645C541.2 644.7 539.3 638.5 539 636C538.7 633.5 539.1 628 540 626Z" fill="#62899f" stroke="none" stroke-width="0" stroke-linejoin="round" stroke-linecap="round" />
<path d="M546.5 633.5L552 637" fill="none" stroke="#10181e" stroke-width="4.4" stroke-linejoin="round" stroke-linecap="round" />
<path d="M546.5 633.5L552 637" fill="none" stroke="#f0f6f8" stroke-width="2.2" stroke-linejoin="round" stroke-linecap="round" />
<!-- turbo12 -->
<defs>
<linearGradient id="t12bell" gradientUnits="userSpaceOnUse" x1="470" y1="910" x2="590" y2="1060"><stop offset="0" stop-color="#e3ecf1"/><stop offset="0.3" stop-color="#b7cbd5"/><stop offset="0.62" stop-color="#83a3b5"/><stop offset="1" stop-color="#62899f"/></linearGradient>
<linearGradient id="t12sh" gradientUnits="userSpaceOnUse" x1="430" y1="940" x2="560" y2="1040"><stop offset="0" stop-color="#bacdd7"/><stop offset="0.5" stop-color="#e3ecf1"/><stop offset="1" stop-color="#aec4cf"/></linearGradient>
<linearGradient id="t12can" gradientUnits="userSpaceOnUse" x1="270" y1="970" x2="340" y2="1050"><stop offset="0" stop-color="#dce7ec"/><stop offset="0.5" stop-color="#96b2c1"/><stop offset="1" stop-color="#5e859b"/></linearGradient>
<linearGradient id="t12face" gradientUnits="userSpaceOnUse" x1="258" y1="990" x2="310" y2="1055"><stop offset="0" stop-color="#f4f8fa"/><stop offset="0.6" stop-color="#c1d3db"/><stop offset="1" stop-color="#91aebe"/></linearGradient>
<linearGradient id="t12body" gradientUnits="userSpaceOnUse" x1="340" y1="1000" x2="460" y2="1200"><stop offset="0" stop-color="#aec4cf"/><stop offset="0.5" stop-color="#8aa9ba"/><stop offset="1" stop-color="#668ca2"/></linearGradient>
<radialGradient id="t12hole" gradientUnits="userSpaceOnUse" cx="340" cy="1108" r="30"><stop offset="0" stop-color="#ffffff"/><stop offset="0.6" stop-color="#dfe9ee"/><stop offset="1" stop-color="#8dabbb"/></radialGradient>
<radialGradient id="t12hole2" gradientUnits="userSpaceOnUse" cx="296" cy="1208" r="26"><stop offset="0" stop-color="#ffffff"/><stop offset="0.6" stop-color="#dfe9ee"/><stop offset="1" stop-color="#8dabbb"/></radialGradient>
</defs>
<path d="M257 1005.2L261.6 987.2L274.4 974.4L294.9 966.7L315.5 968L333.4 977L348.8 982.1L423.2 933.4L425.8 925.7L436.1 921.8L448.1 925.7L460 930L468.5 924.2L480.6 912.1L496.8 907.1L512.9 908.1L537.1 920.2L557.3 940.3L575.4 966.5L585.5 990.7L589.5 1012.9L585.5 1037.1L575.4 1055.2L561.3 1063.3L541.1 1063.3L529 1071.4L521 1085.5L504.8 1099.6L484.7 1107.7L470.6 1103.6L461.8 1130.4L463 1140.5L456.8 1148L335.8 1231.2L333.3 1241.3L315.6 1252.6L305.6 1248.9L293 1233.7L277.8 1211L272.8 1185.8L270.3 1158.1L260.2 1153.1L250.1 1140.5L248.9 1125.4L245.1 1095.1L247.6 1088.8L260.2 1086.3L269 1091.3L272.8 1107.7L302.6 1079.6L307.8 1064.2L302.6 1054L284.7 1054L269.3 1043.7L259 1023.2Z" fill="#7c9eb1" stroke="#10181e" stroke-width="2.4" stroke-linejoin="round" stroke-linecap="round" />
<path d="M352 986.5L394.5 958.5L421 948L407.4 961.3L394.5 977.4L386.5 996.8L375.2 991.9L362.3 990.3Z" fill="#fdfefe" stroke="#10181e" stroke-width="1.4" stroke-linejoin="round" stroke-linecap="round" />
<path d="M448 926C452.4 924.5 457.3 930.2 460 930C462.7 929.8 465.8 926.6 468.5 924.2C471.2 921.8 476.8 914.4 480.6 912.1C484.4 909.8 492.5 907.6 496.8 907.1C501.1 906.6 507.5 906.4 512.9 908.1C518.3 909.8 531.2 915.9 537.1 920.2C543 924.5 552.2 934.1 557.3 940.3C562.4 946.5 571.6 959.8 575.4 966.5C579.2 973.2 583.6 984.5 585.5 990.7C587.4 996.9 589.5 1006.7 589.5 1012.9C589.5 1019.1 587.4 1031.5 585.5 1037.1C583.6 1042.7 578.6 1051.7 575.4 1055.2C572.2 1058.7 565.9 1062.2 561.3 1063.3C556.7 1064.4 545.4 1062.2 541.1 1063.3C536.8 1064.4 531.7 1068.4 529 1071.4C526.3 1074.4 524.2 1081.7 521 1085.5C517.8 1089.3 509.6 1096.6 504.8 1099.6C500 1102.6 489.3 1107.2 484.7 1107.7C480.1 1108.2 471.8 1107.3 470.6 1103.6C469.4 1099.9 476.1 1088.5 476 1080C475.9 1071.5 473.5 1050.1 470 1040C466.5 1029.9 456 1009.9 450 1004C444 998.1 431.7 997.3 425 996C418.3 994.7 405.1 993.9 400 994C394.9 994.1 387.7 999.2 387 997C386.3 994.8 391.8 982.2 394.5 977.4C397.2 972.6 403.1 966.2 407.4 961.3C411.7 956.4 421.4 945.7 426.8 941C432.2 936.3 443.6 927.5 448 926Z" fill="url(#t12bell)" stroke="#10181e" stroke-width="1.8" stroke-linejoin="round" stroke-linecap="round" />
<path d="M426.2 946.4C428.8 944.2 444.2 939.9 448.4 938.3C452.6 936.7 464.9 931.2 468.5 930.2C472.1 929.2 480.3 927.8 484.7 928.2C489.1 928.6 507.3 931.9 512.9 934.3C518.5 936.7 536.3 948.2 541.1 952.4C545.9 956.6 558.3 972.2 561.3 976.6C564.3 981 570.2 994.2 571.4 996.8C572.6 999.4 576.4 1000.8 573.4 1002.8C570.4 1004.8 546.3 1013.9 541.1 1016.9C535.9 1019.9 526.6 1030.4 521 1033.1C515.4 1035.8 488.7 1044.6 484.7 1044.2C480.7 1043.8 482 1032.5 480.6 1029C479.2 1025.5 473.6 1012.1 470.6 1008.9C467.6 1005.7 455 998.2 450.4 996.8C445.8 995.4 427.2 996.4 424.2 994.8C421.2 993.2 420.4 984 420.2 980.6C420 977.2 421.6 963.9 422.2 960.5C422.8 957.1 423.6 948.6 426.2 946.4Z" fill="url(#t12sh)" stroke="#10181e" stroke-width="1.5" stroke-linejoin="round" stroke-linecap="round" />
<path d="M398 975C400.9 971.3 406.4 969.2 410 968C413.6 966.8 421 965.5 425 966C429 966.5 436.4 969.5 440 972C443.6 974.5 449.1 981.3 452 985C454.9 988.7 459.9 996.1 462 1000C464.1 1003.9 470.9 1013.5 468 1014C465.1 1014.5 445.9 1005.9 440 1004C434.1 1002.1 429.3 1001.1 424 1000C418.7 998.9 404.8 996.5 400 996C395.2 995.5 388.3 998.8 388 996C387.7 993.2 395.1 978.7 398 975Z" fill="#7c9eb1" stroke="#10181e" stroke-width="1.2" stroke-linejoin="round" stroke-linecap="round" />
<path d="M404 972C404.7 974.2 407.7 981 408 985C408.3 989 406.3 994.2 406 996" fill="none" stroke="#10181e" stroke-width="1.6" stroke-linejoin="round" stroke-linecap="round" />
<path d="M410 969C411.3 970 415.7 972.3 418 975C420.3 977.7 423 983.3 424 985" fill="none" stroke="#1b2933" stroke-width="1.0" stroke-linejoin="round" stroke-linecap="round" />
<ellipse cx="459" cy="966" rx="27" ry="7.5" fill="#d2e0e7" stroke="#1b2933" stroke-width="1.1" transform="rotate(24 459 966)" />
<ellipse cx="462" cy="972" rx="24" ry="5" fill="none" stroke="#1b2933" stroke-width="0.9" transform="rotate(24 462 972)" />
<ellipse cx="448" cy="957" rx="18" ry="5" fill="#d2e0e7" stroke="#1b2933" stroke-width="1.0" transform="rotate(-8 448 957)" />
<path d="M426 948C429.3 943.1 443.1 940.1 448 938C452.9 935.9 463.8 931.2 468 930C472.2 928.8 480.3 927.8 484 928C487.7 928.2 497.3 929.4 500 932C502.7 934.6 506.8 945 507 950C507.2 955 503.8 969.2 502 975C500.2 980.8 494 993.4 492 1000C490 1006.6 487.6 1031 485 1032C482.4 1033 474.1 1013.1 470 1009C465.9 1004.9 455.4 998.6 450 997C444.6 995.4 427.5 997 424 995C420.5 993 419.8 985.5 420 980C420.2 974.5 422.7 952.9 426 948Z" fill="#aec4cf" stroke="none" stroke-width="0" stroke-linejoin="round" stroke-linecap="round" opacity="0.75"/>
<path d="M424 962C426.3 957.2 434.4 947.9 440 944C445.6 940.1 459.9 934.7 466 933C472.1 931.3 482.8 929.3 486 931C489.2 932.7 492.1 942.1 490 946C487.9 949.9 475.3 956.1 470 960C464.7 963.9 455.3 971 450 975C444.7 979 433.6 989.3 430 990C426.4 990.7 423.8 983.7 423 980C422.2 976.3 421.7 966.8 424 962Z" fill="#d2e0e7" stroke="none" stroke-width="0" stroke-linejoin="round" stroke-linecap="round" />
<path d="M485 1044C489.6 1040.7 514.5 1036.2 521 1033C527.5 1029.8 534.6 1020.7 541 1017C547.4 1013.3 570.8 1001.5 576 1001C581.2 1000.5 585.1 1008.8 586 1013C586.9 1017.2 584.9 1032.2 583.5 1037C582.1 1041.8 576.7 1051.1 574 1054C571.3 1056.9 563.9 1061 560 1062C556.1 1063 544.6 1062 541 1063C537.4 1064 531.3 1068.4 529 1071C526.7 1073.6 523.8 1081.7 521 1085C518.2 1088.3 509.2 1096.4 505 1099C500.8 1101.6 489 1106.5 485 1107C481 1107.5 472.1 1106.2 471 1103C469.9 1099.8 474.7 1084.9 476 1080C477.3 1075.1 480.9 1065.2 482 1061C483.1 1056.8 480.4 1047.3 485 1044Z" fill="#7c9eb1" stroke="#10181e" stroke-width="1.3" stroke-linejoin="round" stroke-linecap="round" />
<path d="M494 1046L520 1038L528 1050L530 1070L520 1086L506 1096L490 1100L486 1080Z" fill="#91aebd" stroke="#1b2933" stroke-width="1.0" stroke-linejoin="round" stroke-linecap="round" />
<path d="M482 1046L490 1048L488 1066L484 1090L474 1100L470 1080L476 1060Z" fill="#4e758b" stroke="#10181e" stroke-width="1.0" stroke-linejoin="round" stroke-linecap="round" />
<path d="M530 1070C532.5 1068.3 540 1062.3 545 1060C550 1057.7 557.5 1056.7 560 1056" fill="none" stroke="#1b2933" stroke-width="1.0" stroke-linejoin="round" stroke-linecap="round" />
<path d="M540 1020C541.3 1023.3 547.2 1033.3 548 1040C548.8 1046.7 545.5 1056.7 545 1060" fill="none" stroke="#1b2933" stroke-width="1.0" stroke-linejoin="round" stroke-linecap="round" />
<path d="M484.7 1044.2C490.8 1042.3 511.6 1037.6 521 1033.1C530.4 1028.5 532.1 1022 541.1 1016.9C550.1 1011.8 569.4 1004.7 575 1002.3" fill="none" stroke="#10181e" stroke-width="4.0" stroke-linejoin="round" stroke-linecap="round" />
<path d="M484.7 1044.2C490.8 1042.3 511.6 1037.6 521 1033.1C530.4 1028.5 532.1 1022 541.1 1016.9C550.1 1011.8 569.4 1004.7 575 1002.3" fill="none" stroke="#91aebd" stroke-width="1.6" stroke-linejoin="round" stroke-linecap="round" />
<path d="M486 921C488.3 920.3 495.5 917.6 500 917C504.5 916.4 507.4 915.3 512.9 917.5C518.4 919.7 526.8 924.6 533.1 930C539.5 935.4 545.5 942.7 551 950C556.5 957.3 562 966.3 566 974C570 981.7 573 989.5 575 996C577 1002.5 578 1006.9 578 1012.9C578 1018.9 576.8 1026.3 575 1032C573.2 1037.7 570.5 1043 567.5 1047C564.5 1051 558.8 1054.5 557 1056" fill="none" stroke="#10181e" stroke-width="1.2" stroke-linejoin="round" stroke-linecap="round" />
<path d="M492 914C495.5 913.7 506 910.4 512.9 912.1C519.8 913.9 526.4 918.9 533.1 924.5C539.8 930.1 547.2 938.2 553.2 946C559.2 953.8 565 963 569.4 971C573.8 979 577.1 987 579.4 994C581.7 1001 582.9 1006.4 583 1012.9C583.1 1019.4 581.8 1026.8 580 1033.1C578.2 1039.4 575.5 1045.9 572.4 1050.5C569.3 1055.1 563.1 1058.8 561.3 1060.5" fill="none" stroke="#10181e" stroke-width="1.0" stroke-linejoin="round" stroke-linecap="round" />
<path d="M470 930C471.7 928.3 476 923.2 480 920C484 916.8 491.7 912.5 494 911" fill="none" stroke="#1b2933" stroke-width="1.0" stroke-linejoin="round" stroke-linecap="round" />
<path d="M460 934C461.3 932.7 464.6 929.3 468 926C471.4 922.7 478.5 916 480.6 914" fill="none" stroke="#10181e" stroke-width="1.2" stroke-linejoin="round" stroke-linecap="round" />
<path d="M585 1000C585.2 1002.5 586.8 1009 586.5 1015C586.2 1021 583.6 1032.5 583 1036" fill="none" stroke="#f0f6f8" stroke-width="1.2" stroke-linejoin="round" stroke-linecap="round" />
<ellipse cx="539" cy="992.7" rx="14.5" ry="16.5" fill="#d2e0e7" stroke="#10181e" stroke-width="1.6" transform="rotate(-15 539 992.7)" />
<ellipse cx="539" cy="992.7" rx="11" ry="12.5" fill="#7c9eb1" stroke="#10181e" stroke-width="1.1" transform="rotate(-15 539 992.7)" />
<ellipse cx="540" cy="992" rx="7.5" ry="8.5" fill="#f0f6f8" stroke="#10181e" stroke-width="1.0" transform="rotate(-15 540 992)" />
<ellipse cx="541" cy="991" rx="4" ry="4.5" fill="#ffffff" stroke="none" stroke-width="0" />
<path d="M490.7 942.3C490.4 940.8 499.3 932.6 500.8 932.3C502.3 932 512.6 936.8 512.9 938.3C513.2 939.8 506.3 954.1 504.8 954.4C503.3 954.7 491 943.8 490.7 942.3Z" fill="#f0f6f8" stroke="#10181e" stroke-width="1.5" stroke-linejoin="round" stroke-linecap="round" />
<path d="M493.5 942.5C493.3 941.4 500.2 935.2 501.3 935C502.4 934.8 509.8 938.2 510 939.3C510.2 940.4 505.1 950.8 504 951C502.9 951.2 493.7 943.6 493.5 942.5Z" fill="none" stroke="#62899f" stroke-width="0.9" stroke-linejoin="round" stroke-linecap="round" />
<path d="M430 960C433.3 958.3 442.5 952 450 950C457.5 948 467.5 946.7 475 948C482.5 949.3 491.7 956.3 495 958" fill="none" stroke="#1b2933" stroke-width="1.0" stroke-linejoin="round" stroke-linecap="round" />
<path d="M436 975C439.2 972.8 447.7 964.8 455 962C462.3 959.2 472.5 957.3 480 958C487.5 958.7 494.2 962.3 500 966C505.8 969.7 512.5 977.7 515 980" fill="none" stroke="#1b2933" stroke-width="1.0" stroke-linejoin="round" stroke-linecap="round" />
<path d="M440 990C443.7 988.3 454.7 981 462 980C469.3 979 477.7 981.3 484 984C490.3 986.7 495.7 991.3 500 996C504.3 1000.7 508.3 1009.3 510 1012" fill="none" stroke="#1b2933" stroke-width="1.0" stroke-linejoin="round" stroke-linecap="round" />
<path d="M478 932C479.3 934 482.3 940.2 486 944C489.7 947.8 494.3 952 500 955C505.7 958 516.7 960.8 520 962" fill="none" stroke="#1b2933" stroke-width="1.0" stroke-linejoin="round" stroke-linecap="round" />
<path d="M515 936C517.2 938.3 524.7 944.7 528 950C531.3 955.3 533.8 965 535 968" fill="none" stroke="#1b2933" stroke-width="1.0" stroke-linejoin="round" stroke-linecap="round" />
<path d="M500 966C500.8 969.2 503 978.5 505 985C507 991.5 509.5 997.8 512 1005C514.5 1012.2 518.7 1024.2 520 1028" fill="none" stroke="#1b2933" stroke-width="1.0" stroke-linejoin="round" stroke-linecap="round" />
<path d="M520 962C521.3 964.2 527.3 969.5 528 975C528.7 980.5 524.7 991.7 524 995" fill="none" stroke="#1b2933" stroke-width="1.0" stroke-linejoin="round" stroke-linecap="round" />
<path d="M545 1010C546.2 1005.8 549.5 990.8 552 985C554.5 979.2 558.7 976.7 560 975" fill="none" stroke="#1b2933" stroke-width="1.0" stroke-linejoin="round" stroke-linecap="round" />
<path d="M462 934C463.3 936.3 469 943.3 470 948C471 952.7 468.3 959.7 468 962" fill="none" stroke="#1b2933" stroke-width="1.0" stroke-linejoin="round" stroke-linecap="round" />
<path d="M452 1000C455 1001.3 465 1003.8 470 1008C475 1012.2 479.3 1019.7 482 1025C484.7 1030.3 485.3 1037.5 486 1040" fill="none" stroke="#1b2933" stroke-width="1.0" stroke-linejoin="round" stroke-linecap="round" />
<path d="M440 948C442 947.3 447 943.3 452 944C457 944.7 465.3 949 470 952C474.7 955 479 959 480 962C481 965 479.3 969.7 476 970C472.7 970.3 465.3 966.3 460 964C454.7 961.7 446.7 957.3 444 956" fill="none" stroke="#1b2933" stroke-width="1.0" stroke-linejoin="round" stroke-linecap="round" />
<path d="M445 966C449.2 967 462.5 968.8 470 972C477.5 975.2 485 980.3 490 985C495 989.7 498.3 997.5 500 1000" fill="none" stroke="#1b2933" stroke-width="1.0" stroke-linejoin="round" stroke-linecap="round" />
<path d="M520 985C521.7 987.5 529 995.2 530 1000C531 1004.8 526.7 1011.7 526 1014" fill="none" stroke="#1b2933" stroke-width="1.0" stroke-linejoin="round" stroke-linecap="round" />
<path d="M508 1012C509.3 1013.3 512.7 1018.3 516 1020C519.3 1021.7 526 1021.7 528 1022" fill="none" stroke="#1b2933" stroke-width="1.0" stroke-linejoin="round" stroke-linecap="round" />
<path d="M556 968C554.7 969.7 548.7 974.3 548 978C547.3 981.7 551.3 988 552 990" fill="none" stroke="#1b2933" stroke-width="1.0" stroke-linejoin="round" stroke-linecap="round" />
<path d="M420 998C423.2 996.9 437.6 997.5 444 1000C450.4 1002.5 462.8 1011.3 468 1017C473.2 1022.7 480.6 1036.7 483 1043C485.4 1049.3 486.7 1060.9 486 1064C485.3 1067.1 479.5 1068.4 478 1066C476.5 1063.6 477.3 1051.5 475 1046C472.7 1040.5 465.5 1029.8 461 1025C456.5 1020.2 446.5 1012.3 441 1010C435.5 1007.7 422.8 1009.6 420 1008C417.2 1006.4 416.8 999.1 420 998Z" fill="#d2e0e7" stroke="#10181e" stroke-width="1.3" stroke-linejoin="round" stroke-linecap="round" />
<path d="M440 1012L460 1028L472 1048L476 1070L470 1100L455 1075L450 1045L440 1030Z" fill="#7c9eb1" stroke="#10181e" stroke-width="1.1" stroke-linejoin="round" stroke-linecap="round" />
<path d="M430 1014C432.3 1016 439.7 1020.7 444 1026C448.3 1031.3 452.8 1038.7 456 1046C459.2 1053.3 461.8 1066 463 1070" fill="none" stroke="#10181e" stroke-width="4.6" stroke-linejoin="round" stroke-linecap="round" />
<path d="M430 1014C432.3 1016 439.7 1020.7 444 1026C448.3 1031.3 452.8 1038.7 456 1046C459.2 1053.3 461.8 1066 463 1070" fill="none" stroke="#d2e0e7" stroke-width="2.6" stroke-linejoin="round" stroke-linecap="round" />
<path d="M466 1066L478 1068L477 1090L470 1100L464 1084Z" fill="#38586c" stroke="#10181e" stroke-width="1.0" stroke-linejoin="round" stroke-linecap="round" />
<path d="M349 1010C350.7 1007 357.4 1001.3 362 1000C366.6 998.7 389.4 996.7 395 997C400.6 997.3 414.5 1001.2 418 1003C421.5 1004.8 427.8 1012.3 430 1015C432.2 1017.7 438 1026.7 440 1030C442 1033.3 448.4 1043.5 450 1048C451.6 1052.5 454 1069.5 456 1075C458 1080.5 469.4 1097.5 470 1103C470.6 1108.5 462.7 1126.3 462 1130C461.3 1133.7 463.5 1138.2 463 1140C462.5 1141.8 469.7 1138.9 457 1148C444.3 1157.1 348.2 1224.5 335.8 1231.2C323.4 1237.9 332.1 1220.1 333 1215C333.9 1209.9 342.7 1187.5 345 1180C347.3 1172.5 354.5 1148.2 356 1140C357.5 1131.8 359.8 1103.5 360 1098C360.2 1092.5 360 1088.8 358 1085C356 1081.2 341.3 1065.5 340 1060C338.7 1054.5 344.1 1035 345 1030C345.9 1025 347.3 1013 349 1010Z" fill="url(#t12body)" stroke="#10181e" stroke-width="1.5" stroke-linejoin="round" stroke-linecap="round" />
<path d="M346 1020C348.4 1017.3 363.1 1007.4 370 1004.7C376.9 1002 391.4 1000 397.5 1000C403.6 1000 411.8 1001.7 415.6 1004.7C419.4 1007.7 425.7 1019.8 426 1022.8C426.3 1025.8 420.4 1028.4 418 1027C415.6 1025.6 411.2 1014.7 408 1012C404.8 1009.3 398.8 1007.1 394 1007C389.2 1006.9 377.6 1008.6 372 1011C366.4 1013.4 355.5 1023.8 352 1025C348.5 1026.2 343.6 1022.7 346 1020Z" fill="#d2e0e7" stroke="#10181e" stroke-width="1.2" stroke-linejoin="round" stroke-linecap="round" />
<path d="M349 1022C352.7 1019.7 363.2 1011.1 371 1008C378.8 1004.9 389.2 1003.5 396 1003.5C402.8 1003.5 407.7 1004.6 412 1008C416.3 1011.4 420.3 1021.3 422 1024" fill="none" stroke="#91aebd" stroke-width="0.9" stroke-linejoin="round" stroke-linecap="round" />
<path d="M365.7 1048.5C368.4 1047.6 380.8 1047.9 385.4 1051.5C390 1055.1 397.7 1068.4 400.5 1075.7C403.3 1083 406.9 1098.7 406.5 1106C406.1 1113.3 401.3 1125.2 397.5 1130.2C393.7 1135.2 381.2 1142.8 377.8 1143.8C374.4 1144.8 370.5 1140.5 372 1138C373.5 1135.5 385.8 1129.4 389 1125C392.2 1120.6 395.7 1111 396 1105C396.3 1099 393.1 1085.7 391 1080C388.9 1074.3 383.5 1064.9 380 1062C376.5 1059.1 366.9 1059.8 365 1058C363.1 1056.2 363 1049.4 365.7 1048.5Z" fill="#d2e0e7" stroke="#10181e" stroke-width="1.2" stroke-linejoin="round" stroke-linecap="round" />
<path d="M368 1062C369.1 1059.5 377.3 1063.3 380 1066C382.7 1068.7 386.4 1076.8 388 1082C389.6 1087.2 392.3 1099.7 392 1105C391.7 1110.3 388.4 1118.1 386 1122C383.6 1125.9 375.9 1135.6 374 1134C372.1 1132.4 372.3 1116.5 372 1110C371.7 1103.5 372.5 1091.4 372 1085C371.5 1078.6 366.9 1064.5 368 1062Z" fill="#aec4cf" stroke="#1b2933" stroke-width="0.9" stroke-linejoin="round" stroke-linecap="round" />
<path d="M410 1005C413 1009.2 423.3 1019.2 428 1030C432.7 1040.8 437 1056.7 438 1070C439 1083.3 436.3 1098.3 434 1110C431.7 1121.7 425.7 1135 424 1140" fill="none" stroke="#1b2933" stroke-width="1.1" stroke-linejoin="round" stroke-linecap="round" />
<path d="M425 1012C427.8 1016.7 437.8 1029 442 1040C446.2 1051 449.3 1066 450 1078C450.7 1090 446.7 1106.3 446 1112" fill="none" stroke="#1b2933" stroke-width="1.0" stroke-linejoin="round" stroke-linecap="round" />
<path d="M438 1078L462 1070L466 1100L462 1128L446 1140L436 1132L440 1105Z" fill="#62899f" stroke="#10181e" stroke-width="1.1" stroke-linejoin="round" stroke-linecap="round" />
<path d="M440 1086L458 1080L460 1096L442 1102Z" fill="#7c9eb1" stroke="#1b2933" stroke-width="0.9" stroke-linejoin="round" stroke-linecap="round" />
<path d="M440 1108L460 1102L460 1120L442 1126Z" fill="#7c9eb1" stroke="#1b2933" stroke-width="0.9" stroke-linejoin="round" stroke-linecap="round" />
<path d="M391.4 1044L420.1 1030.4" fill="none" stroke="#10181e" stroke-width="13.6" stroke-linejoin="round" stroke-linecap="round" />
<path d="M391.4 1044L420.1 1030.4" fill="none" stroke="#aec4cf" stroke-width="10.8" stroke-linejoin="round" stroke-linecap="round" />
<path d="M390.6 1042.2L419.3 1028.6" fill="none" stroke="#f0f6f8" stroke-width="4.352" stroke-linejoin="round" stroke-linecap="round" />
<ellipse cx="391.4" cy="1044" rx="4.5" ry="6.8" fill="#91aebd" stroke="#10181e" stroke-width="1.1" transform="rotate(-25 391.4 1044)" />
<path d="M411.1 1059.1L442.8 1044" fill="none" stroke="#10181e" stroke-width="13" stroke-linejoin="round" stroke-linecap="round" />
<path d="M411.1 1059.1L442.8 1044" fill="none" stroke="#aec4cf" stroke-width="10.2" stroke-linejoin="round" stroke-linecap="round" />
<path d="M410.3 1057.3L442 1042.2" fill="none" stroke="#f0f6f8" stroke-width="4.16" stroke-linejoin="round" stroke-linecap="round" />
<ellipse cx="411.1" cy="1059.1" rx="4.3" ry="6.5" fill="#91aebd" stroke="#10181e" stroke-width="1.1" transform="rotate(-25 411.1 1059.1)" />
<ellipse cx="411.1" cy="1059.1" rx="2" ry="2.8" fill="#62899f" stroke="#10181e" stroke-width="0.8" transform="rotate(-25 411.1 1059.1)" />
<path d="M400.5 1141L410 1134" fill="none" stroke="#10181e" stroke-width="21" stroke-linejoin="round" stroke-linecap="round" />
<path d="M400.5 1141L410 1134" fill="none" stroke="#aec4cf" stroke-width="18.2" stroke-linejoin="round" stroke-linecap="round" />
<path d="M399 1136L408.5 1129" fill="none" stroke="#f0f6f8" stroke-width="5" stroke-linejoin="round" stroke-linecap="round" />
<ellipse cx="400" cy="1141.3" rx="7.4" ry="10" fill="#d2e0e7" stroke="#10181e" stroke-width="1.3" transform="rotate(-30 400 1141.3)" />
<ellipse cx="400" cy="1141.3" rx="3.4" ry="4.6" fill="#91aebd" stroke="#10181e" stroke-width="0.9" transform="rotate(-30 400 1141.3)" />
<path d="M380 1146C382 1148.3 388 1156 392 1160C396 1164 402 1168.3 404 1170" fill="none" stroke="#10181e" stroke-width="1.3" stroke-linejoin="round" stroke-linecap="round" />
<path d="M270.3 1158.1C271.7 1153.9 280.4 1150.9 285 1150C289.6 1149.1 304.2 1148.8 310 1150C315.8 1151.2 330.3 1157.7 335 1160C339.7 1162.3 348.8 1165.9 350 1170C351.2 1174.1 346.6 1187.9 345 1195C343.4 1202.1 337.4 1225.6 336 1231C334.6 1236.4 335.7 1238.8 333.3 1241.3C330.9 1243.8 318.8 1251.7 315.6 1252.6C312.4 1253.5 308.2 1251.1 305.6 1248.9C303 1246.7 296.2 1238.1 293 1233.7C289.8 1229.3 280.2 1216.6 277.8 1211C275.4 1205.4 273.7 1192 272.8 1185.8C271.9 1179.6 268.9 1162.3 270.3 1158.1Z" fill="#7c9eb1" stroke="#10181e" stroke-width="1.6" stroke-linejoin="round" stroke-linecap="round" />
<path d="M318 1165C319.6 1162.6 331.3 1168 334 1172C336.7 1176 338.3 1187.9 338 1195C337.7 1202.1 334.1 1219 332 1225C329.9 1231 323.9 1241.3 322 1240C320.1 1238.7 318 1221.7 318 1215C318 1208.3 322 1196.7 322 1190C322 1183.3 316.4 1167.4 318 1165Z" fill="#62899f" stroke="#10181e" stroke-width="1.1" stroke-linejoin="round" stroke-linecap="round" />
<ellipse cx="296.7" cy="1202.3" rx="19.5" ry="31" fill="#d2e0e7" stroke="#10181e" stroke-width="1.7" transform="rotate(-22 296.7 1202.3)" />
<ellipse cx="302.6" cy="1200.5" rx="12.7" ry="22" fill="url(#t12hole2)" stroke="#10181e" stroke-width="1.4" transform="rotate(-20 302.6 1200.5)" />
<path d="M293 1188C294.2 1184.9 297.9 1181.5 300 1181C302.1 1180.5 308.5 1182.3 309 1184C309.5 1185.7 305.3 1190.8 304 1194C302.7 1197.2 300.2 1204.8 299 1208C297.8 1211.2 296.1 1218.5 295 1218C293.9 1217.5 291.3 1208 291 1204C290.7 1200 291.8 1191.1 293 1188Z" fill="#7c9eb1" stroke="none" stroke-width="0" stroke-linejoin="round" stroke-linecap="round" />
<path d="M300 1212L312 1206" fill="none" stroke="#1b2933" stroke-width="0.9" stroke-linejoin="round" stroke-linecap="round" />
<ellipse cx="274" cy="1165" rx="1.8" ry="2.2" fill="#d2e0e7" stroke="#10181e" stroke-width="0.9" />
<ellipse cx="308.5" cy="1243.5" rx="1.8" ry="2.2" fill="#d2e0e7" stroke="#10181e" stroke-width="0.9" />
<path d="M272 1108L303 1080L318 1092L326 1118L345 1128L350 1150L300 1170L280 1150L272 1140Z" fill="#4e758b" stroke="#10181e" stroke-width="1.4" stroke-linejoin="round" stroke-linecap="round" />
<path d="M273 1110L300 1089L320 1099L325 1116L296 1132L277 1127Z" fill="#d2e0e7" stroke="#10181e" stroke-width="1.2" stroke-linejoin="round" stroke-linecap="round" />
<path d="M284 1103L306 1112L324 1104" fill="none" stroke="#1b2933" stroke-width="1.0" stroke-linejoin="round" stroke-linecap="round" />
<path d="M306 1112L300 1130" fill="none" stroke="#1b2933" stroke-width="1.0" stroke-linejoin="round" stroke-linecap="round" />
<path d="M294.9 1158.1L346.9 1150.9L353 1164.2L320.3 1181.1Z" fill="#aec4cf" stroke="#10181e" stroke-width="1.4" stroke-linejoin="round" stroke-linecap="round" />
<path d="M288 1138L327 1121L342 1134L302 1154Z" fill="#7c9eb1" stroke="#10181e" stroke-width="1.1" stroke-linejoin="round" stroke-linecap="round" />
<path d="M302 1154L342 1134L348 1148L304 1168Z" fill="#62899f" stroke="#10181e" stroke-width="1.0" stroke-linejoin="round" stroke-linecap="round" />
<path d="M249 1126C249.9 1124.4 255.2 1130 258 1130C260.8 1130 267.3 1124.7 270 1126C272.7 1127.3 277.2 1136.5 278 1140C278.8 1143.5 278.1 1150.1 276 1152C273.9 1153.9 265.3 1155.3 262 1154C258.7 1152.7 252.7 1145.7 251 1142C249.3 1138.3 248.1 1127.6 249 1126Z" fill="#7c9eb1" stroke="#10181e" stroke-width="1.4" stroke-linejoin="round" stroke-linecap="round" />
<path d="M252 1134C253.7 1134.7 258.7 1138 262 1138C265.3 1138 270.3 1134.7 272 1134" fill="none" stroke="#1b2933" stroke-width="1.0" stroke-linejoin="round" stroke-linecap="round" />
<path d="M256 1146C257.7 1146.3 262.8 1148.3 266 1148C269.2 1147.7 273.5 1144.7 275 1144" fill="none" stroke="#1b2933" stroke-width="1.0" stroke-linejoin="round" stroke-linecap="round" />
<path d="M245.5 1094L268.5 1092L272.5 1125L270 1128L258 1131L249.5 1127Z" fill="#d2e0e7" stroke="#10181e" stroke-width="1.5" stroke-linejoin="round" stroke-linecap="round" />
<path d="M262 1094L268.5 1092L272.5 1125L266 1128Z" fill="#91aebd" stroke="none" stroke-width="0" stroke-linejoin="round" stroke-linecap="round" />
<ellipse cx="257" cy="1091.5" rx="11.6" ry="5" fill="#aec4cf" stroke="#10181e" stroke-width="1.4" transform="rotate(-5 257 1091.5)" />
<ellipse cx="257.3" cy="1091.8" rx="7.5" ry="3" fill="#f0f6f8" stroke="#10181e" stroke-width="1" transform="rotate(-5 257.3 1091.8)" />
<path d="M301.7 1056.1L309.9 1049.8L318 1056.1L326.2 1058.9L352.5 1079.7L358.9 1085.2L359.8 1097.9L357 1130L352 1150L340 1152L334.4 1140L325.3 1121.5L316.2 1114.2L311.7 1097.9L312.6 1085.2L305.3 1067Z" fill="#aec4cf" stroke="#10181e" stroke-width="2.0" stroke-linejoin="round" stroke-linecap="round" />
<path d="M326.2 1058.9L333 1047L341.6 1037L351 1041L367 1064L373 1075L358.9 1086L352.5 1079.7Z" fill="#f0f6f8" stroke="#10181e" stroke-width="1.6" stroke-linejoin="round" stroke-linecap="round" />
<ellipse cx="352" cy="1060" rx="1.8" ry="1.5" fill="#62899f" stroke="#10181e" stroke-width="0.8" />
<path d="M358.9 1085.2L372 1075L376 1088L372 1120L366 1148L352 1150L357 1130L359.8 1097.9Z" fill="#62899f" stroke="#10181e" stroke-width="1.3" stroke-linejoin="round" stroke-linecap="round" />
<ellipse cx="334.4" cy="1104.2" rx="21.8" ry="30" fill="#91aebd" stroke="#10181e" stroke-width="1.6" transform="rotate(-14 334.4 1104.2)" />
<ellipse cx="341.5" cy="1105.5" rx="14" ry="25.5" fill="url(#t12hole)" stroke="#10181e" stroke-width="1.3" transform="rotate(-12 341.5 1105.5)" />
<path d="M330 1090C331.3 1086.5 335.7 1082.7 338 1082C340.3 1081.3 346.7 1083.4 347 1085C347.3 1086.6 341.6 1090.9 340 1094C338.4 1097.1 336.1 1104.3 335 1108C333.9 1111.7 332.9 1122 332 1122C331.1 1122 328.3 1112.3 328 1108C327.7 1103.7 328.7 1093.5 330 1090Z" fill="#7c9eb1" stroke="none" stroke-width="0" stroke-linejoin="round" stroke-linecap="round" />
<ellipse cx="306" cy="1059" rx="1.8" ry="2.1" fill="#d2e0e7" stroke="#10181e" stroke-width="0.9" />
<ellipse cx="355" cy="1090" rx="1.8" ry="2.1" fill="#d2e0e7" stroke="#10181e" stroke-width="0.9" />
<ellipse cx="318" cy="1112" rx="1.8" ry="2.1" fill="#d2e0e7" stroke="#10181e" stroke-width="0.9" />
<ellipse cx="345" cy="1146" rx="1.8" ry="2.1" fill="#d2e0e7" stroke="#10181e" stroke-width="0.9" />
<defs><linearGradient id="t12side" gradientUnits="userSpaceOnUse" x1="272" y1="972" x2="362" y2="1062"><stop offset="0" stop-color="#ffffff"/><stop offset="0.3" stop-color="#e0eaef"/><stop offset="0.62" stop-color="#91aebd"/><stop offset="1" stop-color="#5c8399"/></linearGradient></defs>
<ellipse cx="314.4" cy="1005.4" rx="25.5" ry="39" fill="url(#t12side)" stroke="#10181e" stroke-width="1.8" transform="rotate(-34 314.4 1005.4)" />
<ellipse cx="309.8" cy="1008.4" rx="28" ry="43" fill="url(#t12side)" stroke="#10181e" stroke-width="1.7" transform="rotate(-34 309.8 1008.4)" />
<ellipse cx="304" cy="1012.2" rx="27.6" ry="42.5" fill="url(#t12side)" stroke="#10181e" stroke-width="1.2" transform="rotate(-34 304 1012.2)" />
<ellipse cx="299.3" cy="1015.3" rx="26" ry="39.4" fill="url(#t12side)" stroke="#10181e" stroke-width="1.2" transform="rotate(-34 299.3 1015.3)" />
<ellipse cx="285.4" cy="1024.4" rx="25" ry="38.3" fill="#aec4cf" stroke="#10181e" stroke-width="1.9" transform="rotate(-34 285.4 1024.4)" />
<ellipse cx="286.2" cy="1025" rx="22.6" ry="35.8" fill="none" stroke="#d2e0e7" stroke-width="1.2" transform="rotate(-34 286.2 1025)" />
<ellipse cx="282.6" cy="1025.3" rx="10.8" ry="16.3" fill="#62899f" stroke="#10181e" stroke-width="1.5" transform="rotate(-30 282.6 1025.3)" />
<ellipse cx="284.2" cy="1027.3" rx="7.8" ry="12.8" fill="#f0f6f8" stroke="#10181e" stroke-width="1.0" transform="rotate(-30 284.2 1027.3)" />
<path d="M276 1016C276.9 1014 280.4 1011 282 1011C283.6 1011 287.7 1014.5 288 1016C288.3 1017.5 285.1 1019.9 284 1022C282.9 1024.1 280.9 1030.1 280 1032C279.1 1033.9 277.7 1036.8 277 1036C276.3 1035.2 275.1 1028.7 275 1026C274.9 1023.3 275.1 1018 276 1016Z" fill="#62899f" stroke="none" stroke-width="0" stroke-linejoin="round" stroke-linecap="round" />
<path d="M281 1024L286 1027" fill="none" stroke="#10181e" stroke-width="3.8" stroke-linejoin="round" stroke-linecap="round" />
<path d="M281 1024L286 1027" fill="none" stroke="#f0f6f8" stroke-width="1.9" stroke-linejoin="round" stroke-linecap="round" />
<path d="M347.7 982.3L426.8 930.6" fill="none" stroke="#10181e" stroke-width="4.8" stroke-linejoin="round" stroke-linecap="round" />
<path d="M347.7 982.3L426.8 930.6" fill="none" stroke="#f0f6f8" stroke-width="2.3" stroke-linejoin="round" stroke-linecap="round" />
<path d="M394 952L425 931.8" fill="none" stroke="#10181e" stroke-width="9.4" stroke-linejoin="round" stroke-linecap="round" />
<path d="M394 952L425 931.8" fill="none" stroke="#aec4cf" stroke-width="6.6" stroke-linejoin="round" stroke-linecap="round" />
<path d="M393.4 951L424.4 930.8" fill="none" stroke="#f0f6f8" stroke-width="2.4" stroke-linejoin="round" stroke-linecap="round" />
<path d="M336 979L345 976L352 982L346 990L338 988Z" fill="#7c9eb1" stroke="#10181e" stroke-width="1.2" stroke-linejoin="round" stroke-linecap="round" />
<path d="M424.8 929.2L433.2 921.9L440.5 926.8L452.6 919.5L467.1 929.2L469.5 935.2L455 940.1L428.4 942.5Z" fill="#7c9eb1" stroke="#10181e" stroke-width="1.8" stroke-linejoin="round" stroke-linecap="round" />
<path d="M433.2 923.5L440.5 928L436 938L429 940Z" fill="#4e758b" stroke="#10181e" stroke-width="1.0" stroke-linejoin="round" stroke-linecap="round" />
<path d="M444 926L452.6 921L458 930L448 937Z" fill="#62899f" stroke="#10181e" stroke-width="1.0" stroke-linejoin="round" stroke-linecap="round" />
<path d="M428.4 942.5L455 940.1L469.5 935.2" fill="none" stroke="#10181e" stroke-width="2.2" stroke-linejoin="round" stroke-linecap="round" />
<!-- centerlines -->
<g id="centerlines" fill="none" stroke="#a3b7c6" stroke-width="1" stroke-dasharray="70 4 5 4">
  <path d="M404.5 180V260"/>
  <path d="M400 250V968"/>
  <path d="M560.3 108V200"/>
  <path d="M580.8 205V505"/>
  <path d="M630.4 110V180"/>
  <path d="M650.2 229V276"/>
  <path d="M628.6 364V406"/>
  <path d="M543.9 722V786"/>
  <path d="M530.2 784V874"/>
  <path d="M613.3 787V828"/>
  <path d="M446.3 1160V1219"/>
  <path d="M461 1252V1301"/>
  <path d="M634.1 1237V1286"/>
</g>

<!-- labels -->
<g id="labels" font-size="22" fill="#0d1114" stroke="#0d1114" stroke-width="0.25" text-anchor="middle">
  <text x="520.5" y="95">9</text>
  <text x="692.5" y="95.3">11</text>
  <text x="693" y="149.3">10</text>
  <text x="355.5" y="168.3">9</text>
  <text x="721.8" y="236.5">3</text>
  <text x="520.5" y="261.3">4</text>
  <text x="697.8" y="261.3">4</text>
  <text x="356.7" y="299">2</text>
  <text x="334.5" y="317.5">1</text>
  <text x="356.7" y="392.5">2</text>
  <text x="698" y="392.5">2</text>
  <text x="779.5" y="539">13</text>
  <text x="507.2" y="751.5">8</text>
  <text x="659.2" y="751.5">8</text>
  <text x="685" y="784">7</text>
  <text x="659.2" y="814.4">8</text>
  <text x="496.2" y="892.2">9</text>
  <text x="215.2" y="1010.9">12</text>
  <text x="491.6" y="1197.3">6</text>
  <text x="679.4" y="1196.3">6</text>
  <text x="704.5" y="1232.3">5</text>
  <text x="679.4" y="1270">6</text>
  <text x="425.9" y="1316.2">9</text>
</g>

<!-- watermark -->
<g id="watermark" style="mix-blend-mode:multiply">
  <g fill="#e6e6ea">
    <polygon points="675,628.2 711.3,633.9 718.4,661.5 678,651.4"/>
    <polygon points="706.3,608 739.6,618.5 746.6,643.3 712.3,633.3"/>
    <polygon points="747.6,644.4 778.9,653.4 788,679.6 755.7,670.6"/>
    <polygon points="770.8,629.2 798,637.3 807.1,660.5 778.9,652.8"/>
    <polygon points="719.4,662.5 755.7,671 764.8,703.8 726.5,693.75"/>
    <polygon points="683.1,686.7 726.5,694.8 734.5,732 689.2,725"/>
    <polygon points="765.8,704.8 798,709.9 809.1,743.1 774.8,735.1"/>
    <polygon points="735,732.7 774.8,736.1 786,778.4 743.6,774.4"/>
    <polygon points="824,646.6 845.5,653.3 855.6,675.4 833.4,668.4"/>
    <polygon points="808.2,662 833.4,669.4 843.5,693.6 817.3,686.5"/>
    <polygon points="857.6,676.9 878.8,682.5 889.9,705.7 867.7,699.6"/>
    <polygon points="789,680.5 818.3,687.5 828.4,715.8 799.2,709.7"/>
    <polygon points="845,695 868.7,700.6 880.2,726.5 855.6,719.8"/>
    <polygon points="829.4,717.2 857.6,722.8 868.7,752 840.5,745"/>
    <polygon points="881.8,727.9 903.4,731.9 917.5,759.5 895,756"/>
    <polygon points="810.2,744 840.5,746 855,783.7 823.3,781.3"/>
    <polygon points="870,753 895,756.7 909.6,788.3 884.4,786.3"/>
  </g>
  <text x="70.4 151 231.6 317.7 404.3 484.9 540" y="0" transform="translate(0 728.5) scale(1 1.065)" font-size="142" font-weight="bold" fill="#fce5e4">scuderi</text>
  <text x="0" y="0" transform="translate(580.5 728.5) scale(0.91 1.065)" font-size="142" font-weight="bold" fill="#fce5e4">a</text>
  <text x="73.5" y="787.5" font-size="46" font-weight="bold" fill="#ebebee" letter-spacing="48.6">car parts</text>
</g>


</svg>
</body></html>
